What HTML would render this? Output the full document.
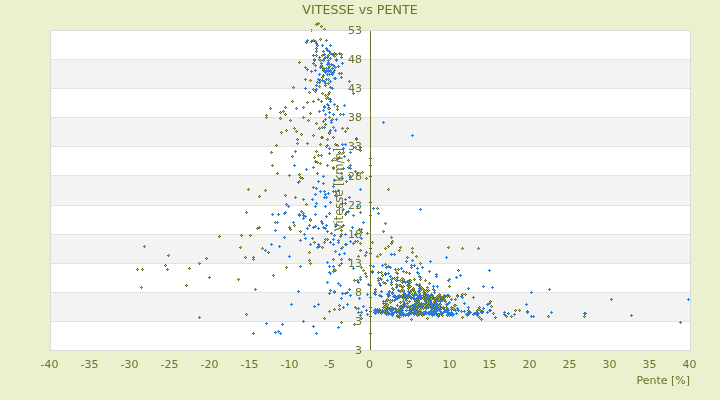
<!DOCTYPE html>
<html><head><meta charset="utf-8"><title>VITESSE vs PENTE</title>
<style>
html,body{margin:0;padding:0;background:#ebf0cf;overflow:hidden}
svg{display:block;will-change:transform}
text{font-family:"DejaVu Sans","Liberation Sans",sans-serif;fill:#6b7326}
</style></head><body>
<svg width="720" height="400" viewBox="0 0 720 400">
<rect width="720" height="400" fill="#ebf0cf"/>
<g shape-rendering="crispEdges">
<rect x="50" y="30" width="641" height="321" fill="#fff"/>
<rect x="50" y="59" width="641" height="29" fill="#f3f3f3"/>
<rect x="50" y="117" width="641" height="29" fill="#f3f3f3"/>
<rect x="50" y="175" width="641" height="30" fill="#f3f3f3"/>
<rect x="50" y="234" width="641" height="29" fill="#f3f3f3"/>
<rect x="50" y="292" width="641" height="29" fill="#f3f3f3"/>
<rect x="50" y="30" width="641" height="1" fill="#e2e2e2"/>
<rect x="50" y="59" width="641" height="1" fill="#e2e2e2"/>
<rect x="50" y="88" width="641" height="1" fill="#e2e2e2"/>
<rect x="50" y="117" width="641" height="1" fill="#e2e2e2"/>
<rect x="50" y="146" width="641" height="1" fill="#e2e2e2"/>
<rect x="50" y="175" width="641" height="1" fill="#e2e2e2"/>
<rect x="50" y="205" width="641" height="1" fill="#e2e2e2"/>
<rect x="50" y="234" width="641" height="1" fill="#e2e2e2"/>
<rect x="50" y="263" width="641" height="1" fill="#e2e2e2"/>
<rect x="50" y="292" width="641" height="1" fill="#e2e2e2"/>
<rect x="50" y="321" width="641" height="1" fill="#e2e2e2"/>
<rect x="50" y="350" width="641" height="1" fill="#e2e2e2"/>
</g>
<g shape-rendering="crispEdges">
<path fill="#5f6b14" d="M144 245h1v1h1v1h-1v1h-1v-1h-1v-1h1zM168 254h1v1h1v1h-1v1h-1v-1h-1v-1h1zM137 268h1v1h1v1h-1v1h-1v-1h-1v-1h1zM142 268h1v1h1v1h-1v1h-1v-1h-1v-1h1zM165 264h1v1h1v1h-1v1h-1v-1h-1v-1h1zM167 268h1v1h1v1h-1v1h-1v-1h-1v-1h1zM141 286h1v1h1v1h-1v1h-1v-1h-1v-1h1zM186 284h1v1h1v1h-1v1h-1v-1h-1v-1h1zM189 267h1v1h1v1h-1v1h-1v-1h-1v-1h1zM199 262h1v1h1v1h-1v1h-1v-1h-1v-1h1zM206 257h1v1h1v1h-1v1h-1v-1h-1v-1h1zM219 235h1v1h1v1h-1v1h-1v-1h-1v-1h1zM241 234h1v1h1v1h-1v1h-1v-1h-1v-1h1zM250 234h1v1h1v1h-1v1h-1v-1h-1v-1h1zM240 246h1v1h1v1h-1v1h-1v-1h-1v-1h1zM245 256h1v1h1v1h-1v1h-1v-1h-1v-1h1zM253 258h1v1h1v1h-1v1h-1v-1h-1v-1h1zM257 227h1v1h1v1h-1v1h-1v-1h-1v-1h1zM262 247h1v1h1v1h-1v1h-1v-1h-1v-1h1zM268 251h1v1h1v1h-1v1h-1v-1h-1v-1h1zM238 278h1v1h1v1h-1v1h-1v-1h-1v-1h1zM273 274h1v1h1v1h-1v1h-1v-1h-1v-1h1zM246 313h1v1h1v1h-1v1h-1v-1h-1v-1h1zM271 151h1v1h1v1h-1v1h-1v-1h-1v-1h1zM272 164h1v1h1v1h-1v1h-1v-1h-1v-1h1zM248 188h1v1h1v1h-1v1h-1v-1h-1v-1h1zM265 189h1v1h1v1h-1v1h-1v-1h-1v-1h1zM259 195h1v1h1v1h-1v1h-1v-1h-1v-1h1zM246 211h1v1h1v1h-1v1h-1v-1h-1v-1h1zM270 107h1v1h1v1h-1v1h-1v-1h-1v-1h1zM266 114h1v1h1v1h-1v1h-1v-1h-1v-1h1zM266 116h1v1h1v1h-1v1h-1v-1h-1v-1h1zM316 23h1v1h1v1h-1v1h-1v-1h-1v-1h1zM318 22h1v1h1v1h-1v1h-1v-1h-1v-1h1zM321 25h1v1h1v1h-1v1h-1v-1h-1v-1h1zM324 28h1v1h1v1h-1v1h-1v-1h-1v-1h1zM311 29h1v1h1v1h-1v1h-1v-1h-1v-1h1zM306 41h1v1h1v1h-1v1h-1v-1h-1v-1h1zM313 39h1v1h1v1h-1v1h-1v-1h-1v-1h1zM315 40h1v1h1v1h-1v1h-1v-1h-1v-1h1zM317 44h1v1h1v1h-1v1h-1v-1h-1v-1h1zM320 38h1v1h1v1h-1v1h-1v-1h-1v-1h1zM316 47h1v1h1v1h-1v1h-1v-1h-1v-1h1zM323 50h1v1h1v1h-1v1h-1v-1h-1v-1h1zM316 54h1v1h1v1h-1v1h-1v-1h-1v-1h1zM322 54h1v1h1v1h-1v1h-1v-1h-1v-1h1zM328 54h1v1h1v1h-1v1h-1v-1h-1v-1h1zM334 52h1v1h1v1h-1v1h-1v-1h-1v-1h1zM336 53h1v1h1v1h-1v1h-1v-1h-1v-1h1zM334 55h1v1h1v1h-1v1h-1v-1h-1v-1h1zM341 53h1v1h1v1h-1v1h-1v-1h-1v-1h1zM319 58h1v1h1v1h-1v1h-1v-1h-1v-1h1zM299 61h1v1h1v1h-1v1h-1v-1h-1v-1h1zM293 86h1v1h1v1h-1v1h-1v-1h-1v-1h1zM310 79h1v1h1v1h-1v1h-1v-1h-1v-1h1zM309 91h1v1h1v1h-1v1h-1v-1h-1v-1h1zM313 88h1v1h1v1h-1v1h-1v-1h-1v-1h1zM315 90h1v1h1v1h-1v1h-1v-1h-1v-1h1zM317 81h1v1h1v1h-1v1h-1v-1h-1v-1h1zM320 79h1v1h1v1h-1v1h-1v-1h-1v-1h1zM319 85h1v1h1v1h-1v1h-1v-1h-1v-1h1zM319 85h1v1h1v1h-1v1h-1v-1h-1v-1h1zM320 59h1v1h1v1h-1v1h-1v-1h-1v-1h1zM321 65h1v1h1v1h-1v1h-1v-1h-1v-1h1zM323 67h1v1h1v1h-1v1h-1v-1h-1v-1h1zM323 69h1v1h1v1h-1v1h-1v-1h-1v-1h1zM322 76h1v1h1v1h-1v1h-1v-1h-1v-1h1zM328 78h1v1h1v1h-1v1h-1v-1h-1v-1h1zM328 82h1v1h1v1h-1v1h-1v-1h-1v-1h1zM329 65h1v1h1v1h-1v1h-1v-1h-1v-1h1zM335 66h1v1h1v1h-1v1h-1v-1h-1v-1h1zM322 92h1v1h1v1h-1v1h-1v-1h-1v-1h1zM325 94h1v1h1v1h-1v1h-1v-1h-1v-1h1zM329 91h1v1h1v1h-1v1h-1v-1h-1v-1h1zM328 93h1v1h1v1h-1v1h-1v-1h-1v-1h1zM327 96h1v1h1v1h-1v1h-1v-1h-1v-1h1zM326 97h1v1h1v1h-1v1h-1v-1h-1v-1h1zM328 97h1v1h1v1h-1v1h-1v-1h-1v-1h1zM318 98h1v1h1v1h-1v1h-1v-1h-1v-1h1zM292 100h1v1h1v1h-1v1h-1v-1h-1v-1h1zM307 101h1v1h1v1h-1v1h-1v-1h-1v-1h1zM285 106h1v1h1v1h-1v1h-1v-1h-1v-1h1zM303 106h1v1h1v1h-1v1h-1v-1h-1v-1h1zM280 111h1v1h1v1h-1v1h-1v-1h-1v-1h1zM283 110h1v1h1v1h-1v1h-1v-1h-1v-1h1zM285 113h1v1h1v1h-1v1h-1v-1h-1v-1h1zM310 112h1v1h1v1h-1v1h-1v-1h-1v-1h1zM328 107h1v1h1v1h-1v1h-1v-1h-1v-1h1zM329 107h1v1h1v1h-1v1h-1v-1h-1v-1h1zM337 105h1v1h1v1h-1v1h-1v-1h-1v-1h1zM340 113h1v1h1v1h-1v1h-1v-1h-1v-1h1zM280 117h1v1h1v1h-1v1h-1v-1h-1v-1h1zM290 119h1v1h1v1h-1v1h-1v-1h-1v-1h1zM303 116h1v1h1v1h-1v1h-1v-1h-1v-1h1zM308 119h1v1h1v1h-1v1h-1v-1h-1v-1h1zM332 118h1v1h1v1h-1v1h-1v-1h-1v-1h1zM316 122h1v1h1v1h-1v1h-1v-1h-1v-1h1zM325 123h1v1h1v1h-1v1h-1v-1h-1v-1h1zM319 127h1v1h1v1h-1v1h-1v-1h-1v-1h1zM322 126h1v1h1v1h-1v1h-1v-1h-1v-1h1zM333 126h1v1h1v1h-1v1h-1v-1h-1v-1h1zM342 127h1v1h1v1h-1v1h-1v-1h-1v-1h1zM329 131h1v1h1v1h-1v1h-1v-1h-1v-1h1zM329 132h1v1h1v1h-1v1h-1v-1h-1v-1h1zM281 131h1v1h1v1h-1v1h-1v-1h-1v-1h1zM286 129h1v1h1v1h-1v1h-1v-1h-1v-1h1zM294 127h1v1h1v1h-1v1h-1v-1h-1v-1h1zM296 130h1v1h1v1h-1v1h-1v-1h-1v-1h1zM301 133h1v1h1v1h-1v1h-1v-1h-1v-1h1zM313 134h1v1h1v1h-1v1h-1v-1h-1v-1h1zM322 136h1v1h1v1h-1v1h-1v-1h-1v-1h1zM327 138h1v1h1v1h-1v1h-1v-1h-1v-1h1zM333 136h1v1h1v1h-1v1h-1v-1h-1v-1h1zM297 138h1v1h1v1h-1v1h-1v-1h-1v-1h1zM276 144h1v1h1v1h-1v1h-1v-1h-1v-1h1zM297 142h1v1h1v1h-1v1h-1v-1h-1v-1h1zM320 143h1v1h1v1h-1v1h-1v-1h-1v-1h1zM326 145h1v1h1v1h-1v1h-1v-1h-1v-1h1zM335 143h1v1h1v1h-1v1h-1v-1h-1v-1h1zM337 144h1v1h1v1h-1v1h-1v-1h-1v-1h1zM292 155h1v1h1v1h-1v1h-1v-1h-1v-1h1zM316 150h1v1h1v1h-1v1h-1v-1h-1v-1h1zM318 154h1v1h1v1h-1v1h-1v-1h-1v-1h1zM321 154h1v1h1v1h-1v1h-1v-1h-1v-1h1zM314 156h1v1h1v1h-1v1h-1v-1h-1v-1h1zM343 151h1v1h1v1h-1v1h-1v-1h-1v-1h1zM317 161h1v1h1v1h-1v1h-1v-1h-1v-1h1zM320 162h1v1h1v1h-1v1h-1v-1h-1v-1h1zM332 159h1v1h1v1h-1v1h-1v-1h-1v-1h1zM333 167h1v1h1v1h-1v1h-1v-1h-1v-1h1zM299 173h1v1h1v1h-1v1h-1v-1h-1v-1h1zM300 176h1v1h1v1h-1v1h-1v-1h-1v-1h1zM302 177h1v1h1v1h-1v1h-1v-1h-1v-1h1zM339 151h1v1h1v1h-1v1h-1v-1h-1v-1h1zM299 180h1v1h1v1h-1v1h-1v-1h-1v-1h1zM285 194h1v1h1v1h-1v1h-1v-1h-1v-1h1zM306 203h1v1h1v1h-1v1h-1v-1h-1v-1h1zM345 202h1v1h1v1h-1v1h-1v-1h-1v-1h1zM339 206h1v1h1v1h-1v1h-1v-1h-1v-1h1zM329 212h1v1h1v1h-1v1h-1v-1h-1v-1h1zM345 213h1v1h1v1h-1v1h-1v-1h-1v-1h1zM310 218h1v1h1v1h-1v1h-1v-1h-1v-1h1zM275 221h1v1h1v1h-1v1h-1v-1h-1v-1h1zM294 224h1v1h1v1h-1v1h-1v-1h-1v-1h1zM290 228h1v1h1v1h-1v1h-1v-1h-1v-1h1zM300 230h1v1h1v1h-1v1h-1v-1h-1v-1h1zM310 219h1v1h1v1h-1v1h-1v-1h-1v-1h1zM321 220h1v1h1v1h-1v1h-1v-1h-1v-1h1zM314 241h1v1h1v1h-1v1h-1v-1h-1v-1h1zM322 246h1v1h1v1h-1v1h-1v-1h-1v-1h1zM325 238h1v1h1v1h-1v1h-1v-1h-1v-1h1zM327 238h1v1h1v1h-1v1h-1v-1h-1v-1h1zM324 241h1v1h1v1h-1v1h-1v-1h-1v-1h1zM341 233h1v1h1v1h-1v1h-1v-1h-1v-1h1zM341 229h1v1h1v1h-1v1h-1v-1h-1v-1h1zM309 251h1v1h1v1h-1v1h-1v-1h-1v-1h1zM335 250h1v1h1v1h-1v1h-1v-1h-1v-1h1zM342 246h1v1h1v1h-1v1h-1v-1h-1v-1h1zM333 258h1v1h1v1h-1v1h-1v-1h-1v-1h1zM341 258h1v1h1v1h-1v1h-1v-1h-1v-1h1zM309 259h1v1h1v1h-1v1h-1v-1h-1v-1h1zM310 262h1v1h1v1h-1v1h-1v-1h-1v-1h1zM286 266h1v1h1v1h-1v1h-1v-1h-1v-1h1zM334 268h1v1h1v1h-1v1h-1v-1h-1v-1h1zM333 270h1v1h1v1h-1v1h-1v-1h-1v-1h1zM335 269h1v1h1v1h-1v1h-1v-1h-1v-1h1zM339 304h1v1h1v1h-1v1h-1v-1h-1v-1h1zM334 308h1v1h1v1h-1v1h-1v-1h-1v-1h1zM339 308h1v1h1v1h-1v1h-1v-1h-1v-1h1zM324 317h1v1h1v1h-1v1h-1v-1h-1v-1h1zM341 321h1v1h1v1h-1v1h-1v-1h-1v-1h1zM347 127h1v1h1v1h-1v1h-1v-1h-1v-1h1zM356 138h1v1h1v1h-1v1h-1v-1h-1v-1h1zM355 146h1v1h1v1h-1v1h-1v-1h-1v-1h1zM360 146h1v1h1v1h-1v1h-1v-1h-1v-1h1zM360 149h1v1h1v1h-1v1h-1v-1h-1v-1h1zM348 159h1v1h1v1h-1v1h-1v-1h-1v-1h1zM348 166h1v1h1v1h-1v1h-1v-1h-1v-1h1zM362 171h1v1h1v1h-1v1h-1v-1h-1v-1h1zM349 174h1v1h1v1h-1v1h-1v-1h-1v-1h1zM366 177h1v1h1v1h-1v1h-1v-1h-1v-1h1zM370 157h1v1h1v1h-1v1h-1v-1h-1v-1h1zM370 164h1v1h1v1h-1v1h-1v-1h-1v-1h1zM370 175h1v1h1v1h-1v1h-1v-1h-1v-1h1zM346 180h1v1h1v1h-1v1h-1v-1h-1v-1h1zM388 188h1v1h1v1h-1v1h-1v-1h-1v-1h1zM370 201h1v1h1v1h-1v1h-1v-1h-1v-1h1zM377 207h1v1h1v1h-1v1h-1v-1h-1v-1h1zM385 222h1v1h1v1h-1v1h-1v-1h-1v-1h1zM383 230h1v1h1v1h-1v1h-1v-1h-1v-1h1zM361 231h1v1h1v1h-1v1h-1v-1h-1v-1h1zM391 236h1v1h1v1h-1v1h-1v-1h-1v-1h1zM392 240h1v1h1v1h-1v1h-1v-1h-1v-1h1zM391 242h1v1h1v1h-1v1h-1v-1h-1v-1h1zM388 245h1v1h1v1h-1v1h-1v-1h-1v-1h1zM385 247h1v1h1v1h-1v1h-1v-1h-1v-1h1zM372 241h1v1h1v1h-1v1h-1v-1h-1v-1h1zM357 240h1v1h1v1h-1v1h-1v-1h-1v-1h1zM360 242h1v1h1v1h-1v1h-1v-1h-1v-1h1zM360 249h1v1h1v1h-1v1h-1v-1h-1v-1h1zM365 254h1v1h1v1h-1v1h-1v-1h-1v-1h1zM358 255h1v1h1v1h-1v1h-1v-1h-1v-1h1zM370 247h1v1h1v1h-1v1h-1v-1h-1v-1h1zM370 252h1v1h1v1h-1v1h-1v-1h-1v-1h1zM377 255h1v1h1v1h-1v1h-1v-1h-1v-1h1zM380 253h1v1h1v1h-1v1h-1v-1h-1v-1h1zM400 246h1v1h1v1h-1v1h-1v-1h-1v-1h1zM399 249h1v1h1v1h-1v1h-1v-1h-1v-1h1zM412 247h1v1h1v1h-1v1h-1v-1h-1v-1h1zM412 251h1v1h1v1h-1v1h-1v-1h-1v-1h1zM407 256h1v1h1v1h-1v1h-1v-1h-1v-1h1zM416 255h1v1h1v1h-1v1h-1v-1h-1v-1h1zM349 258h1v1h1v1h-1v1h-1v-1h-1v-1h1zM363 269h1v1h1v1h-1v1h-1v-1h-1v-1h1zM366 275h1v1h1v1h-1v1h-1v-1h-1v-1h1zM360 276h1v1h1v1h-1v1h-1v-1h-1v-1h1zM354 279h1v1h1v1h-1v1h-1v-1h-1v-1h1zM357 279h1v1h1v1h-1v1h-1v-1h-1v-1h1zM370 264h1v1h1v1h-1v1h-1v-1h-1v-1h1zM372 270h1v1h1v1h-1v1h-1v-1h-1v-1h1zM381 271h1v1h1v1h-1v1h-1v-1h-1v-1h1zM382 274h1v1h1v1h-1v1h-1v-1h-1v-1h1zM385 272h1v1h1v1h-1v1h-1v-1h-1v-1h1zM385 263h1v1h1v1h-1v1h-1v-1h-1v-1h1zM398 268h1v1h1v1h-1v1h-1v-1h-1v-1h1zM406 271h1v1h1v1h-1v1h-1v-1h-1v-1h1zM396 271h1v1h1v1h-1v1h-1v-1h-1v-1h1zM411 264h1v1h1v1h-1v1h-1v-1h-1v-1h1zM356 307h1v1h1v1h-1v1h-1v-1h-1v-1h1zM361 311h1v1h1v1h-1v1h-1v-1h-1v-1h1zM361 317h1v1h1v1h-1v1h-1v-1h-1v-1h1zM354 323h1v1h1v1h-1v1h-1v-1h-1v-1h1zM370 315h1v1h1v1h-1v1h-1v-1h-1v-1h1zM397 315h1v1h1v1h-1v1h-1v-1h-1v-1h1zM411 318h1v1h1v1h-1v1h-1v-1h-1v-1h1zM448 246h1v1h1v1h-1v1h-1v-1h-1v-1h1zM462 247h1v1h1v1h-1v1h-1v-1h-1v-1h1zM478 247h1v1h1v1h-1v1h-1v-1h-1v-1h1zM420 262h1v1h1v1h-1v1h-1v-1h-1v-1h1zM418 272h1v1h1v1h-1v1h-1v-1h-1v-1h1zM458 269h1v1h1v1h-1v1h-1v-1h-1v-1h1zM449 278h1v1h1v1h-1v1h-1v-1h-1v-1h1zM449 285h1v1h1v1h-1v1h-1v-1h-1v-1h1zM457 294h1v1h1v1h-1v1h-1v-1h-1v-1h1zM462 293h1v1h1v1h-1v1h-1v-1h-1v-1h1zM465 293h1v1h1v1h-1v1h-1v-1h-1v-1h1zM447 294h1v1h1v1h-1v1h-1v-1h-1v-1h1zM427 317h1v1h1v1h-1v1h-1v-1h-1v-1h1zM462 316h1v1h1v1h-1v1h-1v-1h-1v-1h1zM482 310h1v1h1v1h-1v1h-1v-1h-1v-1h1zM479 316h1v1h1v1h-1v1h-1v-1h-1v-1h1zM481 318h1v1h1v1h-1v1h-1v-1h-1v-1h1zM490 300h1v1h1v1h-1v1h-1v-1h-1v-1h1zM491 305h1v1h1v1h-1v1h-1v-1h-1v-1h1zM490 309h1v1h1v1h-1v1h-1v-1h-1v-1h1zM493 312h1v1h1v1h-1v1h-1v-1h-1v-1h1zM495 316h1v1h1v1h-1v1h-1v-1h-1v-1h1zM506 315h1v1h1v1h-1v1h-1v-1h-1v-1h1zM511 315h1v1h1v1h-1v1h-1v-1h-1v-1h1zM515 309h1v1h1v1h-1v1h-1v-1h-1v-1h1zM519 309h1v1h1v1h-1v1h-1v-1h-1v-1h1zM527 310h1v1h1v1h-1v1h-1v-1h-1v-1h1zM548 315h1v1h1v1h-1v1h-1v-1h-1v-1h1zM584 315h1v1h1v1h-1v1h-1v-1h-1v-1h1z"/>
<path fill="#b2c04e" d="M144 246h1v1h-1zM168 255h1v1h-1zM137 269h1v1h-1zM142 269h1v1h-1zM165 265h1v1h-1zM167 269h1v1h-1zM141 287h1v1h-1zM186 285h1v1h-1zM189 268h1v1h-1zM199 263h1v1h-1zM206 258h1v1h-1zM219 236h1v1h-1zM241 235h1v1h-1zM250 235h1v1h-1zM240 247h1v1h-1zM245 257h1v1h-1zM253 259h1v1h-1zM257 228h1v1h-1zM262 248h1v1h-1zM268 252h1v1h-1zM238 279h1v1h-1zM273 275h1v1h-1zM246 314h1v1h-1zM271 152h1v1h-1zM272 165h1v1h-1zM248 189h1v1h-1zM265 190h1v1h-1zM259 196h1v1h-1zM246 212h1v1h-1zM270 108h1v1h-1zM266 115h1v1h-1zM266 117h1v1h-1zM316 24h1v1h-1zM318 23h1v1h-1zM321 26h1v1h-1zM324 29h1v1h-1zM311 30h1v1h-1zM306 42h1v1h-1zM313 40h1v1h-1zM315 41h1v1h-1zM317 45h1v1h-1zM320 39h1v1h-1zM316 48h1v1h-1zM323 51h1v1h-1zM316 55h1v1h-1zM322 55h1v1h-1zM328 55h1v1h-1zM334 53h1v1h-1zM336 54h1v1h-1zM334 56h1v1h-1zM341 54h1v1h-1zM319 59h1v1h-1zM299 62h1v1h-1zM293 87h1v1h-1zM310 80h1v1h-1zM309 92h1v1h-1zM313 89h1v1h-1zM315 91h1v1h-1zM317 82h1v1h-1zM320 80h1v1h-1zM319 86h1v1h-1zM319 86h1v1h-1zM320 60h1v1h-1zM321 66h1v1h-1zM323 68h1v1h-1zM323 70h1v1h-1zM322 77h1v1h-1zM328 79h1v1h-1zM328 83h1v1h-1zM329 66h1v1h-1zM335 67h1v1h-1zM322 93h1v1h-1zM325 95h1v1h-1zM329 92h1v1h-1zM328 94h1v1h-1zM327 97h1v1h-1zM326 98h1v1h-1zM328 98h1v1h-1zM318 99h1v1h-1zM292 101h1v1h-1zM307 102h1v1h-1zM285 107h1v1h-1zM303 107h1v1h-1zM280 112h1v1h-1zM283 111h1v1h-1zM285 114h1v1h-1zM310 113h1v1h-1zM328 108h1v1h-1zM329 108h1v1h-1zM337 106h1v1h-1zM340 114h1v1h-1zM280 118h1v1h-1zM290 120h1v1h-1zM303 117h1v1h-1zM308 120h1v1h-1zM332 119h1v1h-1zM316 123h1v1h-1zM325 124h1v1h-1zM319 128h1v1h-1zM322 127h1v1h-1zM333 127h1v1h-1zM342 128h1v1h-1zM329 132h1v1h-1zM329 133h1v1h-1zM281 132h1v1h-1zM286 130h1v1h-1zM294 128h1v1h-1zM296 131h1v1h-1zM301 134h1v1h-1zM313 135h1v1h-1zM322 137h1v1h-1zM327 139h1v1h-1zM333 137h1v1h-1zM297 139h1v1h-1zM276 145h1v1h-1zM297 143h1v1h-1zM320 144h1v1h-1zM326 146h1v1h-1zM335 144h1v1h-1zM337 145h1v1h-1zM292 156h1v1h-1zM316 151h1v1h-1zM318 155h1v1h-1zM321 155h1v1h-1zM314 157h1v1h-1zM343 152h1v1h-1zM317 162h1v1h-1zM320 163h1v1h-1zM332 160h1v1h-1zM333 168h1v1h-1zM299 174h1v1h-1zM300 177h1v1h-1zM302 178h1v1h-1zM339 152h1v1h-1zM299 181h1v1h-1zM285 195h1v1h-1zM306 204h1v1h-1zM345 203h1v1h-1zM339 207h1v1h-1zM329 213h1v1h-1zM345 214h1v1h-1zM310 219h1v1h-1zM275 222h1v1h-1zM294 225h1v1h-1zM290 229h1v1h-1zM300 231h1v1h-1zM310 220h1v1h-1zM321 221h1v1h-1zM314 242h1v1h-1zM322 247h1v1h-1zM325 239h1v1h-1zM327 239h1v1h-1zM324 242h1v1h-1zM341 234h1v1h-1zM341 230h1v1h-1zM309 252h1v1h-1zM335 251h1v1h-1zM342 247h1v1h-1zM333 259h1v1h-1zM341 259h1v1h-1zM309 260h1v1h-1zM310 263h1v1h-1zM286 267h1v1h-1zM334 269h1v1h-1zM333 271h1v1h-1zM335 270h1v1h-1zM339 305h1v1h-1zM334 309h1v1h-1zM339 309h1v1h-1zM324 318h1v1h-1zM341 322h1v1h-1zM347 128h1v1h-1zM356 139h1v1h-1zM355 147h1v1h-1zM360 147h1v1h-1zM360 150h1v1h-1zM348 160h1v1h-1zM348 167h1v1h-1zM362 172h1v1h-1zM349 175h1v1h-1zM366 178h1v1h-1zM370 158h1v1h-1zM370 165h1v1h-1zM370 176h1v1h-1zM346 181h1v1h-1zM388 189h1v1h-1zM370 202h1v1h-1zM377 208h1v1h-1zM385 223h1v1h-1zM383 231h1v1h-1zM361 232h1v1h-1zM391 237h1v1h-1zM392 241h1v1h-1zM391 243h1v1h-1zM388 246h1v1h-1zM385 248h1v1h-1zM372 242h1v1h-1zM357 241h1v1h-1zM360 243h1v1h-1zM360 250h1v1h-1zM365 255h1v1h-1zM358 256h1v1h-1zM370 248h1v1h-1zM370 253h1v1h-1zM377 256h1v1h-1zM380 254h1v1h-1zM400 247h1v1h-1zM399 250h1v1h-1zM412 248h1v1h-1zM412 252h1v1h-1zM407 257h1v1h-1zM416 256h1v1h-1zM349 259h1v1h-1zM363 270h1v1h-1zM366 276h1v1h-1zM360 277h1v1h-1zM354 280h1v1h-1zM357 280h1v1h-1zM370 265h1v1h-1zM372 271h1v1h-1zM381 272h1v1h-1zM382 275h1v1h-1zM385 273h1v1h-1zM385 264h1v1h-1zM398 269h1v1h-1zM406 272h1v1h-1zM396 272h1v1h-1zM411 265h1v1h-1zM356 308h1v1h-1zM361 312h1v1h-1zM361 318h1v1h-1zM354 324h1v1h-1zM370 316h1v1h-1zM397 316h1v1h-1zM411 319h1v1h-1zM448 247h1v1h-1zM462 248h1v1h-1zM478 248h1v1h-1zM420 263h1v1h-1zM418 273h1v1h-1zM458 270h1v1h-1zM449 279h1v1h-1zM449 286h1v1h-1zM457 295h1v1h-1zM462 294h1v1h-1zM465 294h1v1h-1zM447 295h1v1h-1zM427 318h1v1h-1zM462 317h1v1h-1zM482 311h1v1h-1zM479 317h1v1h-1zM481 319h1v1h-1zM490 301h1v1h-1zM491 306h1v1h-1zM490 310h1v1h-1zM493 313h1v1h-1zM495 317h1v1h-1zM506 316h1v1h-1zM511 316h1v1h-1zM515 310h1v1h-1zM519 310h1v1h-1zM527 311h1v1h-1zM548 316h1v1h-1zM584 316h1v1h-1z"/>
<path fill="#2b7cd6" d="M209 276h1v1h1v1h-1v1h-1v-1h-1v-1h1zM253 256h1v1h1v1h-1v1h-1v-1h-1v-1h1zM259 226h1v1h1v1h-1v1h-1v-1h-1v-1h1zM265 249h1v1h1v1h-1v1h-1v-1h-1v-1h1zM271 243h1v1h1v1h-1v1h-1v-1h-1v-1h1zM255 288h1v1h1v1h-1v1h-1v-1h-1v-1h1zM199 316h1v1h1v1h-1v1h-1v-1h-1v-1h1zM266 322h1v1h1v1h-1v1h-1v-1h-1v-1h1zM253 332h1v1h1v1h-1v1h-1v-1h-1v-1h1zM272 213h1v1h1v1h-1v1h-1v-1h-1v-1h1zM307 39h1v1h1v1h-1v1h-1v-1h-1v-1h1zM311 40h1v1h1v1h-1v1h-1v-1h-1v-1h1zM316 42h1v1h1v1h-1v1h-1v-1h-1v-1h1zM326 39h1v1h1v1h-1v1h-1v-1h-1v-1h1zM322 44h1v1h1v1h-1v1h-1v-1h-1v-1h1zM330 44h1v1h1v1h-1v1h-1v-1h-1v-1h1zM316 50h1v1h1v1h-1v1h-1v-1h-1v-1h1zM326 47h1v1h1v1h-1v1h-1v-1h-1v-1h1zM327 49h1v1h1v1h-1v1h-1v-1h-1v-1h1zM329 50h1v1h1v1h-1v1h-1v-1h-1v-1h1zM330 52h1v1h1v1h-1v1h-1v-1h-1v-1h1zM313 54h1v1h1v1h-1v1h-1v-1h-1v-1h1zM319 56h1v1h1v1h-1v1h-1v-1h-1v-1h1zM324 53h1v1h1v1h-1v1h-1v-1h-1v-1h1zM325 56h1v1h1v1h-1v1h-1v-1h-1v-1h1zM327 56h1v1h1v1h-1v1h-1v-1h-1v-1h1zM332 53h1v1h1v1h-1v1h-1v-1h-1v-1h1zM333 54h1v1h1v1h-1v1h-1v-1h-1v-1h1zM339 52h1v1h1v1h-1v1h-1v-1h-1v-1h1zM341 56h1v1h1v1h-1v1h-1v-1h-1v-1h1zM330 57h1v1h1v1h-1v1h-1v-1h-1v-1h1zM314 58h1v1h1v1h-1v1h-1v-1h-1v-1h1zM324 57h1v1h1v1h-1v1h-1v-1h-1v-1h1zM336 58h1v1h1v1h-1v1h-1v-1h-1v-1h1zM305 66h1v1h1v1h-1v1h-1v-1h-1v-1h1zM307 68h1v1h1v1h-1v1h-1v-1h-1v-1h1zM311 70h1v1h1v1h-1v1h-1v-1h-1v-1h1zM315 69h1v1h1v1h-1v1h-1v-1h-1v-1h1zM313 62h1v1h1v1h-1v1h-1v-1h-1v-1h1zM315 64h1v1h1v1h-1v1h-1v-1h-1v-1h1zM314 59h1v1h1v1h-1v1h-1v-1h-1v-1h1zM305 78h1v1h1v1h-1v1h-1v-1h-1v-1h1zM305 87h1v1h1v1h-1v1h-1v-1h-1v-1h1zM316 88h1v1h1v1h-1v1h-1v-1h-1v-1h1zM316 84h1v1h1v1h-1v1h-1v-1h-1v-1h1zM318 78h1v1h1v1h-1v1h-1v-1h-1v-1h1zM319 81h1v1h1v1h-1v1h-1v-1h-1v-1h1zM319 73h1v1h1v1h-1v1h-1v-1h-1v-1h1zM321 62h1v1h1v1h-1v1h-1v-1h-1v-1h1zM320 66h1v1h1v1h-1v1h-1v-1h-1v-1h1zM323 59h1v1h1v1h-1v1h-1v-1h-1v-1h1zM323 74h1v1h1v1h-1v1h-1v-1h-1v-1h1zM322 79h1v1h1v1h-1v1h-1v-1h-1v-1h1zM324 80h1v1h1v1h-1v1h-1v-1h-1v-1h1zM325 82h1v1h1v1h-1v1h-1v-1h-1v-1h1zM325 84h1v1h1v1h-1v1h-1v-1h-1v-1h1zM326 78h1v1h1v1h-1v1h-1v-1h-1v-1h1zM330 80h1v1h1v1h-1v1h-1v-1h-1v-1h1zM330 86h1v1h1v1h-1v1h-1v-1h-1v-1h1zM332 87h1v1h1v1h-1v1h-1v-1h-1v-1h1zM334 77h1v1h1v1h-1v1h-1v-1h-1v-1h1zM335 77h1v1h1v1h-1v1h-1v-1h-1v-1h1zM328 59h1v1h1v1h-1v1h-1v-1h-1v-1h1zM328 61h1v1h1v1h-1v1h-1v-1h-1v-1h1zM327 63h1v1h1v1h-1v1h-1v-1h-1v-1h1zM329 63h1v1h1v1h-1v1h-1v-1h-1v-1h1zM328 67h1v1h1v1h-1v1h-1v-1h-1v-1h1zM326 69h1v1h1v1h-1v1h-1v-1h-1v-1h1zM325 71h1v1h1v1h-1v1h-1v-1h-1v-1h1zM327 73h1v1h1v1h-1v1h-1v-1h-1v-1h1zM329 73h1v1h1v1h-1v1h-1v-1h-1v-1h1zM331 71h1v1h1v1h-1v1h-1v-1h-1v-1h1zM333 71h1v1h1v1h-1v1h-1v-1h-1v-1h1zM334 69h1v1h1v1h-1v1h-1v-1h-1v-1h1zM332 67h1v1h1v1h-1v1h-1v-1h-1v-1h1zM331 63h1v1h1v1h-1v1h-1v-1h-1v-1h1zM333 64h1v1h1v1h-1v1h-1v-1h-1v-1h1zM334 65h1v1h1v1h-1v1h-1v-1h-1v-1h1zM338 65h1v1h1v1h-1v1h-1v-1h-1v-1h1zM342 62h1v1h1v1h-1v1h-1v-1h-1v-1h1zM336 59h1v1h1v1h-1v1h-1v-1h-1v-1h1zM339 72h1v1h1v1h-1v1h-1v-1h-1v-1h1zM341 72h1v1h1v1h-1v1h-1v-1h-1v-1h1zM341 76h1v1h1v1h-1v1h-1v-1h-1v-1h1zM324 70h1v1h1v1h-1v1h-1v-1h-1v-1h1zM330 69h1v1h1v1h-1v1h-1v-1h-1v-1h1zM332 73h1v1h1v1h-1v1h-1v-1h-1v-1h1zM330 98h1v1h1v1h-1v1h-1v-1h-1v-1h1zM328 70h1v1h1v1h-1v1h-1v-1h-1v-1h1zM326 67h1v1h1v1h-1v1h-1v-1h-1v-1h1zM313 100h1v1h1v1h-1v1h-1v-1h-1v-1h1zM321 100h1v1h1v1h-1v1h-1v-1h-1v-1h1zM330 100h1v1h1v1h-1v1h-1v-1h-1v-1h1zM296 107h1v1h1v1h-1v1h-1v-1h-1v-1h1zM319 110h1v1h1v1h-1v1h-1v-1h-1v-1h1zM323 109h1v1h1v1h-1v1h-1v-1h-1v-1h1zM324 105h1v1h1v1h-1v1h-1v-1h-1v-1h1zM324 106h1v1h1v1h-1v1h-1v-1h-1v-1h1zM327 103h1v1h1v1h-1v1h-1v-1h-1v-1h1zM328 104h1v1h1v1h-1v1h-1v-1h-1v-1h1zM334 103h1v1h1v1h-1v1h-1v-1h-1v-1h1zM337 108h1v1h1v1h-1v1h-1v-1h-1v-1h1zM344 104h1v1h1v1h-1v1h-1v-1h-1v-1h1zM329 111h1v1h1v1h-1v1h-1v-1h-1v-1h1zM325 113h1v1h1v1h-1v1h-1v-1h-1v-1h1zM333 113h1v1h1v1h-1v1h-1v-1h-1v-1h1zM343 113h1v1h1v1h-1v1h-1v-1h-1v-1h1zM329 116h1v1h1v1h-1v1h-1v-1h-1v-1h1zM325 118h1v1h1v1h-1v1h-1v-1h-1v-1h1zM323 120h1v1h1v1h-1v1h-1v-1h-1v-1h1zM331 119h1v1h1v1h-1v1h-1v-1h-1v-1h1zM331 121h1v1h1v1h-1v1h-1v-1h-1v-1h1zM336 118h1v1h1v1h-1v1h-1v-1h-1v-1h1zM324 126h1v1h1v1h-1v1h-1v-1h-1v-1h1zM330 129h1v1h1v1h-1v1h-1v-1h-1v-1h1zM335 129h1v1h1v1h-1v1h-1v-1h-1v-1h1zM345 130h1v1h1v1h-1v1h-1v-1h-1v-1h1zM321 136h1v1h1v1h-1v1h-1v-1h-1v-1h1zM307 142h1v1h1v1h-1v1h-1v-1h-1v-1h1zM327 144h1v1h1v1h-1v1h-1v-1h-1v-1h1zM342 143h1v1h1v1h-1v1h-1v-1h-1v-1h1zM345 143h1v1h1v1h-1v1h-1v-1h-1v-1h1zM295 150h1v1h1v1h-1v1h-1v-1h-1v-1h1zM329 147h1v1h1v1h-1v1h-1v-1h-1v-1h1zM329 152h1v1h1v1h-1v1h-1v-1h-1v-1h1zM343 147h1v1h1v1h-1v1h-1v-1h-1v-1h1zM344 155h1v1h1v1h-1v1h-1v-1h-1v-1h1zM315 160h1v1h1v1h-1v1h-1v-1h-1v-1h1zM337 158h1v1h1v1h-1v1h-1v-1h-1v-1h1zM339 156h1v1h1v1h-1v1h-1v-1h-1v-1h1zM294 164h1v1h1v1h-1v1h-1v-1h-1v-1h1zM327 164h1v1h1v1h-1v1h-1v-1h-1v-1h1zM313 166h1v1h1v1h-1v1h-1v-1h-1v-1h1zM306 168h1v1h1v1h-1v1h-1v-1h-1v-1h1zM333 166h1v1h1v1h-1v1h-1v-1h-1v-1h1zM343 167h1v1h1v1h-1v1h-1v-1h-1v-1h1zM277 172h1v1h1v1h-1v1h-1v-1h-1v-1h1zM289 174h1v1h1v1h-1v1h-1v-1h-1v-1h1zM317 172h1v1h1v1h-1v1h-1v-1h-1v-1h1zM323 175h1v1h1v1h-1v1h-1v-1h-1v-1h1zM341 172h1v1h1v1h-1v1h-1v-1h-1v-1h1zM342 177h1v1h1v1h-1v1h-1v-1h-1v-1h1zM298 181h1v1h1v1h-1v1h-1v-1h-1v-1h1zM318 180h1v1h1v1h-1v1h-1v-1h-1v-1h1zM323 182h1v1h1v1h-1v1h-1v-1h-1v-1h1zM334 179h1v1h1v1h-1v1h-1v-1h-1v-1h1zM313 186h1v1h1v1h-1v1h-1v-1h-1v-1h1zM316 187h1v1h1v1h-1v1h-1v-1h-1v-1h1zM333 185h1v1h1v1h-1v1h-1v-1h-1v-1h1zM320 190h1v1h1v1h-1v1h-1v-1h-1v-1h1zM324 190h1v1h1v1h-1v1h-1v-1h-1v-1h1zM328 192h1v1h1v1h-1v1h-1v-1h-1v-1h1zM325 193h1v1h1v1h-1v1h-1v-1h-1v-1h1zM315 193h1v1h1v1h-1v1h-1v-1h-1v-1h1zM333 190h1v1h1v1h-1v1h-1v-1h-1v-1h1zM335 190h1v1h1v1h-1v1h-1v-1h-1v-1h1zM338 189h1v1h1v1h-1v1h-1v-1h-1v-1h1zM295 196h1v1h1v1h-1v1h-1v-1h-1v-1h1zM303 198h1v1h1v1h-1v1h-1v-1h-1v-1h1zM312 198h1v1h1v1h-1v1h-1v-1h-1v-1h1zM324 196h1v1h1v1h-1v1h-1v-1h-1v-1h1zM326 196h1v1h1v1h-1v1h-1v-1h-1v-1h1zM335 194h1v1h1v1h-1v1h-1v-1h-1v-1h1zM336 195h1v1h1v1h-1v1h-1v-1h-1v-1h1zM330 201h1v1h1v1h-1v1h-1v-1h-1v-1h1zM345 198h1v1h1v1h-1v1h-1v-1h-1v-1h1zM286 203h1v1h1v1h-1v1h-1v-1h-1v-1h1zM288 205h1v1h1v1h-1v1h-1v-1h-1v-1h1zM316 202h1v1h1v1h-1v1h-1v-1h-1v-1h1zM315 205h1v1h1v1h-1v1h-1v-1h-1v-1h1zM325 205h1v1h1v1h-1v1h-1v-1h-1v-1h1zM342 202h1v1h1v1h-1v1h-1v-1h-1v-1h1zM343 208h1v1h1v1h-1v1h-1v-1h-1v-1h1zM278 213h1v1h1v1h-1v1h-1v-1h-1v-1h1zM284 212h1v1h1v1h-1v1h-1v-1h-1v-1h1zM285 211h1v1h1v1h-1v1h-1v-1h-1v-1h1zM301 210h1v1h1v1h-1v1h-1v-1h-1v-1h1zM303 212h1v1h1v1h-1v1h-1v-1h-1v-1h1zM299 213h1v1h1v1h-1v1h-1v-1h-1v-1h1zM299 214h1v1h1v1h-1v1h-1v-1h-1v-1h1zM303 214h1v1h1v1h-1v1h-1v-1h-1v-1h1zM305 215h1v1h1v1h-1v1h-1v-1h-1v-1h1zM303 217h1v1h1v1h-1v1h-1v-1h-1v-1h1zM315 213h1v1h1v1h-1v1h-1v-1h-1v-1h1zM326 215h1v1h1v1h-1v1h-1v-1h-1v-1h1zM277 221h1v1h1v1h-1v1h-1v-1h-1v-1h1zM293 221h1v1h1v1h-1v1h-1v-1h-1v-1h1zM289 226h1v1h1v1h-1v1h-1v-1h-1v-1h1zM275 229h1v1h1v1h-1v1h-1v-1h-1v-1h1zM322 222h1v1h1v1h-1v1h-1v-1h-1v-1h1zM309 224h1v1h1v1h-1v1h-1v-1h-1v-1h1zM307 227h1v1h1v1h-1v1h-1v-1h-1v-1h1zM313 226h1v1h1v1h-1v1h-1v-1h-1v-1h1zM315 225h1v1h1v1h-1v1h-1v-1h-1v-1h1zM318 227h1v1h1v1h-1v1h-1v-1h-1v-1h1zM323 226h1v1h1v1h-1v1h-1v-1h-1v-1h1zM325 227h1v1h1v1h-1v1h-1v-1h-1v-1h1zM326 224h1v1h1v1h-1v1h-1v-1h-1v-1h1zM327 230h1v1h1v1h-1v1h-1v-1h-1v-1h1zM331 232h1v1h1v1h-1v1h-1v-1h-1v-1h1zM334 234h1v1h1v1h-1v1h-1v-1h-1v-1h1zM304 233h1v1h1v1h-1v1h-1v-1h-1v-1h1zM305 237h1v1h1v1h-1v1h-1v-1h-1v-1h1zM300 239h1v1h1v1h-1v1h-1v-1h-1v-1h1zM284 236h1v1h1v1h-1v1h-1v-1h-1v-1h1zM312 237h1v1h1v1h-1v1h-1v-1h-1v-1h1zM310 243h1v1h1v1h-1v1h-1v-1h-1v-1h1zM318 243h1v1h1v1h-1v1h-1v-1h-1v-1h1zM319 245h1v1h1v1h-1v1h-1v-1h-1v-1h1zM317 246h1v1h1v1h-1v1h-1v-1h-1v-1h1zM330 241h1v1h1v1h-1v1h-1v-1h-1v-1h1zM333 238h1v1h1v1h-1v1h-1v-1h-1v-1h1zM333 243h1v1h1v1h-1v1h-1v-1h-1v-1h1zM338 239h1v1h1v1h-1v1h-1v-1h-1v-1h1zM338 241h1v1h1v1h-1v1h-1v-1h-1v-1h1zM340 235h1v1h1v1h-1v1h-1v-1h-1v-1h1zM335 225h1v1h1v1h-1v1h-1v-1h-1v-1h1zM343 224h1v1h1v1h-1v1h-1v-1h-1v-1h1zM336 223h1v1h1v1h-1v1h-1v-1h-1v-1h1zM345 233h1v1h1v1h-1v1h-1v-1h-1v-1h1zM279 245h1v1h1v1h-1v1h-1v-1h-1v-1h1zM289 255h1v1h1v1h-1v1h-1v-1h-1v-1h1zM339 253h1v1h1v1h-1v1h-1v-1h-1v-1h1zM341 247h1v1h1v1h-1v1h-1v-1h-1v-1h1zM344 252h1v1h1v1h-1v1h-1v-1h-1v-1h1zM345 243h1v1h1v1h-1v1h-1v-1h-1v-1h1zM300 265h1v1h1v1h-1v1h-1v-1h-1v-1h1zM327 261h1v1h1v1h-1v1h-1v-1h-1v-1h1zM329 265h1v1h1v1h-1v1h-1v-1h-1v-1h1zM333 265h1v1h1v1h-1v1h-1v-1h-1v-1h1zM339 264h1v1h1v1h-1v1h-1v-1h-1v-1h1zM341 262h1v1h1v1h-1v1h-1v-1h-1v-1h1zM329 271h1v1h1v1h-1v1h-1v-1h-1v-1h1zM330 272h1v1h1v1h-1v1h-1v-1h-1v-1h1zM327 281h1v1h1v1h-1v1h-1v-1h-1v-1h1zM338 282h1v1h1v1h-1v1h-1v-1h-1v-1h1zM340 284h1v1h1v1h-1v1h-1v-1h-1v-1h1zM298 290h1v1h1v1h-1v1h-1v-1h-1v-1h1zM330 289h1v1h1v1h-1v1h-1v-1h-1v-1h1zM329 292h1v1h1v1h-1v1h-1v-1h-1v-1h1zM334 290h1v1h1v1h-1v1h-1v-1h-1v-1h1zM334 291h1v1h1v1h-1v1h-1v-1h-1v-1h1zM342 292h1v1h1v1h-1v1h-1v-1h-1v-1h1zM341 297h1v1h1v1h-1v1h-1v-1h-1v-1h1zM345 292h1v1h1v1h-1v1h-1v-1h-1v-1h1zM291 303h1v1h1v1h-1v1h-1v-1h-1v-1h1zM314 305h1v1h1v1h-1v1h-1v-1h-1v-1h1zM318 303h1v1h1v1h-1v1h-1v-1h-1v-1h1zM343 306h1v1h1v1h-1v1h-1v-1h-1v-1h1zM329 310h1v1h1v1h-1v1h-1v-1h-1v-1h1zM303 320h1v1h1v1h-1v1h-1v-1h-1v-1h1zM282 323h1v1h1v1h-1v1h-1v-1h-1v-1h1zM313 325h1v1h1v1h-1v1h-1v-1h-1v-1h1zM338 326h1v1h1v1h-1v1h-1v-1h-1v-1h1zM275 331h1v1h1v1h-1v1h-1v-1h-1v-1h1zM278 330h1v1h1v1h-1v1h-1v-1h-1v-1h1zM280 332h1v1h1v1h-1v1h-1v-1h-1v-1h1zM316 332h1v1h1v1h-1v1h-1v-1h-1v-1h1zM349 80h1v1h1v1h-1v1h-1v-1h-1v-1h1zM353 92h1v1h1v1h-1v1h-1v-1h-1v-1h1zM383 121h1v1h1v1h-1v1h-1v-1h-1v-1h1zM412 134h1v1h1v1h-1v1h-1v-1h-1v-1h1zM356 137h1v1h1v1h-1v1h-1v-1h-1v-1h1zM350 151h1v1h1v1h-1v1h-1v-1h-1v-1h1zM350 164h1v1h1v1h-1v1h-1v-1h-1v-1h1zM350 167h1v1h1v1h-1v1h-1v-1h-1v-1h1zM355 170h1v1h1v1h-1v1h-1v-1h-1v-1h1zM357 172h1v1h1v1h-1v1h-1v-1h-1v-1h1zM350 176h1v1h1v1h-1v1h-1v-1h-1v-1h1zM360 188h1v1h1v1h-1v1h-1v-1h-1v-1h1zM349 196h1v1h1v1h-1v1h-1v-1h-1v-1h1zM357 205h1v1h1v1h-1v1h-1v-1h-1v-1h1zM373 207h1v1h1v1h-1v1h-1v-1h-1v-1h1zM378 212h1v1h1v1h-1v1h-1v-1h-1v-1h1zM360 211h1v1h1v1h-1v1h-1v-1h-1v-1h1zM353 214h1v1h1v1h-1v1h-1v-1h-1v-1h1zM348 210h1v1h1v1h-1v1h-1v-1h-1v-1h1zM346 211h1v1h1v1h-1v1h-1v-1h-1v-1h1zM370 214h1v1h1v1h-1v1h-1v-1h-1v-1h1zM363 221h1v1h1v1h-1v1h-1v-1h-1v-1h1zM352 226h1v1h1v1h-1v1h-1v-1h-1v-1h1zM359 228h1v1h1v1h-1v1h-1v-1h-1v-1h1zM361 228h1v1h1v1h-1v1h-1v-1h-1v-1h1zM367 232h1v1h1v1h-1v1h-1v-1h-1v-1h1zM355 233h1v1h1v1h-1v1h-1v-1h-1v-1h1zM361 237h1v1h1v1h-1v1h-1v-1h-1v-1h1zM350 240h1v1h1v1h-1v1h-1v-1h-1v-1h1zM353 242h1v1h1v1h-1v1h-1v-1h-1v-1h1zM355 240h1v1h1v1h-1v1h-1v-1h-1v-1h1zM346 243h1v1h1v1h-1v1h-1v-1h-1v-1h1zM366 251h1v1h1v1h-1v1h-1v-1h-1v-1h1zM391 253h1v1h1v1h-1v1h-1v-1h-1v-1h1zM394 253h1v1h1v1h-1v1h-1v-1h-1v-1h1zM353 267h1v1h1v1h-1v1h-1v-1h-1v-1h1zM361 266h1v1h1v1h-1v1h-1v-1h-1v-1h1zM365 272h1v1h1v1h-1v1h-1v-1h-1v-1h1zM360 278h1v1h1v1h-1v1h-1v-1h-1v-1h1zM358 281h1v1h1v1h-1v1h-1v-1h-1v-1h1zM368 283h1v1h1v1h-1v1h-1v-1h-1v-1h1zM349 288h1v1h1v1h-1v1h-1v-1h-1v-1h1zM347 291h1v1h1v1h-1v1h-1v-1h-1v-1h1zM350 294h1v1h1v1h-1v1h-1v-1h-1v-1h1zM359 297h1v1h1v1h-1v1h-1v-1h-1v-1h1zM367 293h1v1h1v1h-1v1h-1v-1h-1v-1h1zM370 284h1v1h1v1h-1v1h-1v-1h-1v-1h1zM370 296h1v1h1v1h-1v1h-1v-1h-1v-1h1zM373 265h1v1h1v1h-1v1h-1v-1h-1v-1h1zM372 271h1v1h1v1h-1v1h-1v-1h-1v-1h1zM378 271h1v1h1v1h-1v1h-1v-1h-1v-1h1zM385 273h1v1h1v1h-1v1h-1v-1h-1v-1h1zM388 272h1v1h1v1h-1v1h-1v-1h-1v-1h1zM382 264h1v1h1v1h-1v1h-1v-1h-1v-1h1zM386 266h1v1h1v1h-1v1h-1v-1h-1v-1h1zM388 265h1v1h1v1h-1v1h-1v-1h-1v-1h1zM390 266h1v1h1v1h-1v1h-1v-1h-1v-1h1zM395 268h1v1h1v1h-1v1h-1v-1h-1v-1h1zM401 267h1v1h1v1h-1v1h-1v-1h-1v-1h1zM403 270h1v1h1v1h-1v1h-1v-1h-1v-1h1zM409 272h1v1h1v1h-1v1h-1v-1h-1v-1h1zM397 272h1v1h1v1h-1v1h-1v-1h-1v-1h1zM411 266h1v1h1v1h-1v1h-1v-1h-1v-1h1zM414 264h1v1h1v1h-1v1h-1v-1h-1v-1h1zM406 260h1v1h1v1h-1v1h-1v-1h-1v-1h1zM412 259h1v1h1v1h-1v1h-1v-1h-1v-1h1zM417 267h1v1h1v1h-1v1h-1v-1h-1v-1h1zM417 271h1v1h1v1h-1v1h-1v-1h-1v-1h1zM347 303h1v1h1v1h-1v1h-1v-1h-1v-1h1zM355 306h1v1h1v1h-1v1h-1v-1h-1v-1h1zM358 307h1v1h1v1h-1v1h-1v-1h-1v-1h1zM363 305h1v1h1v1h-1v1h-1v-1h-1v-1h1zM366 309h1v1h1v1h-1v1h-1v-1h-1v-1h1zM358 311h1v1h1v1h-1v1h-1v-1h-1v-1h1zM360 314h1v1h1v1h-1v1h-1v-1h-1v-1h1zM367 313h1v1h1v1h-1v1h-1v-1h-1v-1h1zM370 306h1v1h1v1h-1v1h-1v-1h-1v-1h1zM370 310h1v1h1v1h-1v1h-1v-1h-1v-1h1zM370 332h1v1h1v1h-1v1h-1v-1h-1v-1h1zM399 316h1v1h1v1h-1v1h-1v-1h-1v-1h1zM420 208h1v1h1v1h-1v1h-1v-1h-1v-1h1zM446 256h1v1h1v1h-1v1h-1v-1h-1v-1h1zM430 260h1v1h1v1h-1v1h-1v-1h-1v-1h1zM422 266h1v1h1v1h-1v1h-1v-1h-1v-1h1zM429 270h1v1h1v1h-1v1h-1v-1h-1v-1h1zM436 273h1v1h1v1h-1v1h-1v-1h-1v-1h1zM460 274h1v1h1v1h-1v1h-1v-1h-1v-1h1zM456 276h1v1h1v1h-1v1h-1v-1h-1v-1h1zM448 279h1v1h1v1h-1v1h-1v-1h-1v-1h1zM468 287h1v1h1v1h-1v1h-1v-1h-1v-1h1zM483 285h1v1h1v1h-1v1h-1v-1h-1v-1h1zM489 269h1v1h1v1h-1v1h-1v-1h-1v-1h1zM448 294h1v1h1v1h-1v1h-1v-1h-1v-1h1zM438 315h1v1h1v1h-1v1h-1v-1h-1v-1h1zM483 307h1v1h1v1h-1v1h-1v-1h-1v-1h1zM482 311h1v1h1v1h-1v1h-1v-1h-1v-1h1zM487 303h1v1h1v1h-1v1h-1v-1h-1v-1h1zM489 302h1v1h1v1h-1v1h-1v-1h-1v-1h1zM487 311h1v1h1v1h-1v1h-1v-1h-1v-1h1zM489 309h1v1h1v1h-1v1h-1v-1h-1v-1h1zM492 286h1v1h1v1h-1v1h-1v-1h-1v-1h1zM531 291h1v1h1v1h-1v1h-1v-1h-1v-1h1zM549 288h1v1h1v1h-1v1h-1v-1h-1v-1h1zM611 298h1v1h1v1h-1v1h-1v-1h-1v-1h1zM526 303h1v1h1v1h-1v1h-1v-1h-1v-1h1zM504 311h1v1h1v1h-1v1h-1v-1h-1v-1h1zM505 314h1v1h1v1h-1v1h-1v-1h-1v-1h1zM504 313h1v1h1v1h-1v1h-1v-1h-1v-1h1zM508 312h1v1h1v1h-1v1h-1v-1h-1v-1h1zM514 313h1v1h1v1h-1v1h-1v-1h-1v-1h1zM527 311h1v1h1v1h-1v1h-1v-1h-1v-1h1zM531 315h1v1h1v1h-1v1h-1v-1h-1v-1h1zM533 315h1v1h1v1h-1v1h-1v-1h-1v-1h1zM551 311h1v1h1v1h-1v1h-1v-1h-1v-1h1zM584 312h1v1h1v1h-1v1h-1v-1h-1v-1h1zM585 312h1v1h1v1h-1v1h-1v-1h-1v-1h1zM631 314h1v1h1v1h-1v1h-1v-1h-1v-1h1zM688 298h1v1h1v1h-1v1h-1v-1h-1v-1h1zM680 321h1v1h1v1h-1v1h-1v-1h-1v-1h1zM380 277h1v1h1v1h-1v1h-1v-1h-1v-1h1zM378 279h1v1h1v1h-1v1h-1v-1h-1v-1h1zM381 278h1v1h1v1h-1v1h-1v-1h-1v-1h1zM380 284h1v1h1v1h-1v1h-1v-1h-1v-1h1zM387 279h1v1h1v1h-1v1h-1v-1h-1v-1h1zM390 275h1v1h1v1h-1v1h-1v-1h-1v-1h1zM392 277h1v1h1v1h-1v1h-1v-1h-1v-1h1zM391 281h1v1h1v1h-1v1h-1v-1h-1v-1h1zM397 276h1v1h1v1h-1v1h-1v-1h-1v-1h1zM397 279h1v1h1v1h-1v1h-1v-1h-1v-1h1zM397 284h1v1h1v1h-1v1h-1v-1h-1v-1h1zM396 286h1v1h1v1h-1v1h-1v-1h-1v-1h1zM404 280h1v1h1v1h-1v1h-1v-1h-1v-1h1zM402 281h1v1h1v1h-1v1h-1v-1h-1v-1h1zM405 281h1v1h1v1h-1v1h-1v-1h-1v-1h1zM407 280h1v1h1v1h-1v1h-1v-1h-1v-1h1zM401 285h1v1h1v1h-1v1h-1v-1h-1v-1h1zM402 286h1v1h1v1h-1v1h-1v-1h-1v-1h1zM408 283h1v1h1v1h-1v1h-1v-1h-1v-1h1zM407 284h1v1h1v1h-1v1h-1v-1h-1v-1h1zM398 289h1v1h1v1h-1v1h-1v-1h-1v-1h1zM408 290h1v1h1v1h-1v1h-1v-1h-1v-1h1zM409 291h1v1h1v1h-1v1h-1v-1h-1v-1h1zM375 288h1v1h1v1h-1v1h-1v-1h-1v-1h1zM375 293h1v1h1v1h-1v1h-1v-1h-1v-1h1zM374 292h1v1h1v1h-1v1h-1v-1h-1v-1h1zM381 290h1v1h1v1h-1v1h-1v-1h-1v-1h1zM379 294h1v1h1v1h-1v1h-1v-1h-1v-1h1zM389 290h1v1h1v1h-1v1h-1v-1h-1v-1h1zM388 292h1v1h1v1h-1v1h-1v-1h-1v-1h1zM387 293h1v1h1v1h-1v1h-1v-1h-1v-1h1zM389 294h1v1h1v1h-1v1h-1v-1h-1v-1h1zM392 291h1v1h1v1h-1v1h-1v-1h-1v-1h1zM392 292h1v1h1v1h-1v1h-1v-1h-1v-1h1zM394 294h1v1h1v1h-1v1h-1v-1h-1v-1h1zM399 294h1v1h1v1h-1v1h-1v-1h-1v-1h1zM404 292h1v1h1v1h-1v1h-1v-1h-1v-1h1zM405 293h1v1h1v1h-1v1h-1v-1h-1v-1h1zM403 294h1v1h1v1h-1v1h-1v-1h-1v-1h1zM406 294h1v1h1v1h-1v1h-1v-1h-1v-1h1zM408 293h1v1h1v1h-1v1h-1v-1h-1v-1h1zM409 279h1v1h1v1h-1v1h-1v-1h-1v-1h1zM381 295h1v1h1v1h-1v1h-1v-1h-1v-1h1zM388 295h1v1h1v1h-1v1h-1v-1h-1v-1h1zM393 295h1v1h1v1h-1v1h-1v-1h-1v-1h1zM395 296h1v1h1v1h-1v1h-1v-1h-1v-1h1zM397 295h1v1h1v1h-1v1h-1v-1h-1v-1h1zM399 296h1v1h1v1h-1v1h-1v-1h-1v-1h1zM401 295h1v1h1v1h-1v1h-1v-1h-1v-1h1zM403 296h1v1h1v1h-1v1h-1v-1h-1v-1h1zM405 295h1v1h1v1h-1v1h-1v-1h-1v-1h1zM407 296h1v1h1v1h-1v1h-1v-1h-1v-1h1zM409 295h1v1h1v1h-1v1h-1v-1h-1v-1h1zM397 297h1v1h1v1h-1v1h-1v-1h-1v-1h1zM405 297h1v1h1v1h-1v1h-1v-1h-1v-1h1zM395 298h1v1h1v1h-1v1h-1v-1h-1v-1h1zM383 300h1v1h1v1h-1v1h-1v-1h-1v-1h1zM385 300h1v1h1v1h-1v1h-1v-1h-1v-1h1zM383 302h1v1h1v1h-1v1h-1v-1h-1v-1h1zM385 302h1v1h1v1h-1v1h-1v-1h-1v-1h1zM392 299h1v1h1v1h-1v1h-1v-1h-1v-1h1zM394 299h1v1h1v1h-1v1h-1v-1h-1v-1h1zM397 304h1v1h1v1h-1v1h-1v-1h-1v-1h1zM375 308h1v1h1v1h-1v1h-1v-1h-1v-1h1zM377 308h1v1h1v1h-1v1h-1v-1h-1v-1h1zM379 308h1v1h1v1h-1v1h-1v-1h-1v-1h1zM374 309h1v1h1v1h-1v1h-1v-1h-1v-1h1zM376 309h1v1h1v1h-1v1h-1v-1h-1v-1h1zM378 309h1v1h1v1h-1v1h-1v-1h-1v-1h1zM380 309h1v1h1v1h-1v1h-1v-1h-1v-1h1zM382 309h1v1h1v1h-1v1h-1v-1h-1v-1h1zM375 310h1v1h1v1h-1v1h-1v-1h-1v-1h1zM377 310h1v1h1v1h-1v1h-1v-1h-1v-1h1zM379 310h1v1h1v1h-1v1h-1v-1h-1v-1h1zM382 310h1v1h1v1h-1v1h-1v-1h-1v-1h1zM374 311h1v1h1v1h-1v1h-1v-1h-1v-1h1zM376 311h1v1h1v1h-1v1h-1v-1h-1v-1h1zM378 311h1v1h1v1h-1v1h-1v-1h-1v-1h1zM375 312h1v1h1v1h-1v1h-1v-1h-1v-1h1zM388 307h1v1h1v1h-1v1h-1v-1h-1v-1h1zM393 307h1v1h1v1h-1v1h-1v-1h-1v-1h1zM395 307h1v1h1v1h-1v1h-1v-1h-1v-1h1zM387 308h1v1h1v1h-1v1h-1v-1h-1v-1h1zM389 308h1v1h1v1h-1v1h-1v-1h-1v-1h1zM391 308h1v1h1v1h-1v1h-1v-1h-1v-1h1zM393 308h1v1h1v1h-1v1h-1v-1h-1v-1h1zM395 308h1v1h1v1h-1v1h-1v-1h-1v-1h1zM386 309h1v1h1v1h-1v1h-1v-1h-1v-1h1zM390 309h1v1h1v1h-1v1h-1v-1h-1v-1h1zM392 309h1v1h1v1h-1v1h-1v-1h-1v-1h1zM396 309h1v1h1v1h-1v1h-1v-1h-1v-1h1zM385 310h1v1h1v1h-1v1h-1v-1h-1v-1h1zM387 310h1v1h1v1h-1v1h-1v-1h-1v-1h1zM391 310h1v1h1v1h-1v1h-1v-1h-1v-1h1zM395 310h1v1h1v1h-1v1h-1v-1h-1v-1h1zM397 310h1v1h1v1h-1v1h-1v-1h-1v-1h1zM384 311h1v1h1v1h-1v1h-1v-1h-1v-1h1zM386 311h1v1h1v1h-1v1h-1v-1h-1v-1h1zM388 311h1v1h1v1h-1v1h-1v-1h-1v-1h1zM392 311h1v1h1v1h-1v1h-1v-1h-1v-1h1zM394 311h1v1h1v1h-1v1h-1v-1h-1v-1h1zM396 311h1v1h1v1h-1v1h-1v-1h-1v-1h1zM398 311h1v1h1v1h-1v1h-1v-1h-1v-1h1zM385 312h1v1h1v1h-1v1h-1v-1h-1v-1h1zM387 312h1v1h1v1h-1v1h-1v-1h-1v-1h1zM389 312h1v1h1v1h-1v1h-1v-1h-1v-1h1zM393 312h1v1h1v1h-1v1h-1v-1h-1v-1h1zM386 313h1v1h1v1h-1v1h-1v-1h-1v-1h1zM388 313h1v1h1v1h-1v1h-1v-1h-1v-1h1zM391 313h1v1h1v1h-1v1h-1v-1h-1v-1h1zM392 314h1v1h1v1h-1v1h-1v-1h-1v-1h1zM403 300h1v1h1v1h-1v1h-1v-1h-1v-1h1zM409 300h1v1h1v1h-1v1h-1v-1h-1v-1h1zM404 302h1v1h1v1h-1v1h-1v-1h-1v-1h1zM407 302h1v1h1v1h-1v1h-1v-1h-1v-1h1zM403 303h1v1h1v1h-1v1h-1v-1h-1v-1h1zM400 305h1v1h1v1h-1v1h-1v-1h-1v-1h1zM404 305h1v1h1v1h-1v1h-1v-1h-1v-1h1zM406 305h1v1h1v1h-1v1h-1v-1h-1v-1h1zM401 306h1v1h1v1h-1v1h-1v-1h-1v-1h1zM403 306h1v1h1v1h-1v1h-1v-1h-1v-1h1zM407 306h1v1h1v1h-1v1h-1v-1h-1v-1h1zM409 306h1v1h1v1h-1v1h-1v-1h-1v-1h1zM400 307h1v1h1v1h-1v1h-1v-1h-1v-1h1zM402 307h1v1h1v1h-1v1h-1v-1h-1v-1h1zM401 308h1v1h1v1h-1v1h-1v-1h-1v-1h1zM400 309h1v1h1v1h-1v1h-1v-1h-1v-1h1zM402 309h1v1h1v1h-1v1h-1v-1h-1v-1h1zM409 309h1v1h1v1h-1v1h-1v-1h-1v-1h1zM399 310h1v1h1v1h-1v1h-1v-1h-1v-1h1zM401 310h1v1h1v1h-1v1h-1v-1h-1v-1h1zM400 311h1v1h1v1h-1v1h-1v-1h-1v-1h1zM402 311h1v1h1v1h-1v1h-1v-1h-1v-1h1zM409 311h1v1h1v1h-1v1h-1v-1h-1v-1h1zM399 312h1v1h1v1h-1v1h-1v-1h-1v-1h1zM401 312h1v1h1v1h-1v1h-1v-1h-1v-1h1zM403 312h1v1h1v1h-1v1h-1v-1h-1v-1h1zM408 312h1v1h1v1h-1v1h-1v-1h-1v-1h1zM400 313h1v1h1v1h-1v1h-1v-1h-1v-1h1zM402 313h1v1h1v1h-1v1h-1v-1h-1v-1h1zM404 313h1v1h1v1h-1v1h-1v-1h-1v-1h1zM406 313h1v1h1v1h-1v1h-1v-1h-1v-1h1zM409 313h1v1h1v1h-1v1h-1v-1h-1v-1h1zM399 314h1v1h1v1h-1v1h-1v-1h-1v-1h1zM401 314h1v1h1v1h-1v1h-1v-1h-1v-1h1zM403 314h1v1h1v1h-1v1h-1v-1h-1v-1h1zM405 314h1v1h1v1h-1v1h-1v-1h-1v-1h1zM408 314h1v1h1v1h-1v1h-1v-1h-1v-1h1zM406 309h1v1h1v1h-1v1h-1v-1h-1v-1h1zM419 275h1v1h1v1h-1v1h-1v-1h-1v-1h1zM420 276h1v1h1v1h-1v1h-1v-1h-1v-1h1zM436 275h1v1h1v1h-1v1h-1v-1h-1v-1h1zM416 283h1v1h1v1h-1v1h-1v-1h-1v-1h1zM419 283h1v1h1v1h-1v1h-1v-1h-1v-1h1zM427 286h1v1h1v1h-1v1h-1v-1h-1v-1h1zM433 285h1v1h1v1h-1v1h-1v-1h-1v-1h1zM437 285h1v1h1v1h-1v1h-1v-1h-1v-1h1zM434 289h1v1h1v1h-1v1h-1v-1h-1v-1h1zM434 291h1v1h1v1h-1v1h-1v-1h-1v-1h1zM419 287h1v1h1v1h-1v1h-1v-1h-1v-1h1zM413 288h1v1h1v1h-1v1h-1v-1h-1v-1h1zM418 290h1v1h1v1h-1v1h-1v-1h-1v-1h1zM415 292h1v1h1v1h-1v1h-1v-1h-1v-1h1zM416 293h1v1h1v1h-1v1h-1v-1h-1v-1h1zM414 294h1v1h1v1h-1v1h-1v-1h-1v-1h1zM417 294h1v1h1v1h-1v1h-1v-1h-1v-1h1zM420 294h1v1h1v1h-1v1h-1v-1h-1v-1h1zM425 292h1v1h1v1h-1v1h-1v-1h-1v-1h1zM426 293h1v1h1v1h-1v1h-1v-1h-1v-1h1zM428 294h1v1h1v1h-1v1h-1v-1h-1v-1h1zM431 293h1v1h1v1h-1v1h-1v-1h-1v-1h1zM432 294h1v1h1v1h-1v1h-1v-1h-1v-1h1zM423 294h1v1h1v1h-1v1h-1v-1h-1v-1h1zM444 294h1v1h1v1h-1v1h-1v-1h-1v-1h1zM410 295h1v1h1v1h-1v1h-1v-1h-1v-1h1zM420 295h1v1h1v1h-1v1h-1v-1h-1v-1h1zM425 295h1v1h1v1h-1v1h-1v-1h-1v-1h1zM430 295h1v1h1v1h-1v1h-1v-1h-1v-1h1zM440 295h1v1h1v1h-1v1h-1v-1h-1v-1h1zM445 295h1v1h1v1h-1v1h-1v-1h-1v-1h1zM413 296h1v1h1v1h-1v1h-1v-1h-1v-1h1zM418 296h1v1h1v1h-1v1h-1v-1h-1v-1h1zM423 296h1v1h1v1h-1v1h-1v-1h-1v-1h1zM428 296h1v1h1v1h-1v1h-1v-1h-1v-1h1zM433 296h1v1h1v1h-1v1h-1v-1h-1v-1h1zM438 296h1v1h1v1h-1v1h-1v-1h-1v-1h1zM443 296h1v1h1v1h-1v1h-1v-1h-1v-1h1zM411 297h1v1h1v1h-1v1h-1v-1h-1v-1h1zM416 297h1v1h1v1h-1v1h-1v-1h-1v-1h1zM421 297h1v1h1v1h-1v1h-1v-1h-1v-1h1zM426 297h1v1h1v1h-1v1h-1v-1h-1v-1h1zM431 297h1v1h1v1h-1v1h-1v-1h-1v-1h1zM436 297h1v1h1v1h-1v1h-1v-1h-1v-1h1zM441 297h1v1h1v1h-1v1h-1v-1h-1v-1h1zM414 298h1v1h1v1h-1v1h-1v-1h-1v-1h1zM419 298h1v1h1v1h-1v1h-1v-1h-1v-1h1zM424 298h1v1h1v1h-1v1h-1v-1h-1v-1h1zM429 298h1v1h1v1h-1v1h-1v-1h-1v-1h1zM434 298h1v1h1v1h-1v1h-1v-1h-1v-1h1zM439 298h1v1h1v1h-1v1h-1v-1h-1v-1h1zM444 298h1v1h1v1h-1v1h-1v-1h-1v-1h1zM417 299h1v1h1v1h-1v1h-1v-1h-1v-1h1zM427 299h1v1h1v1h-1v1h-1v-1h-1v-1h1zM437 299h1v1h1v1h-1v1h-1v-1h-1v-1h1zM442 299h1v1h1v1h-1v1h-1v-1h-1v-1h1zM415 300h1v1h1v1h-1v1h-1v-1h-1v-1h1zM425 300h1v1h1v1h-1v1h-1v-1h-1v-1h1zM430 300h1v1h1v1h-1v1h-1v-1h-1v-1h1zM435 300h1v1h1v1h-1v1h-1v-1h-1v-1h1zM440 300h1v1h1v1h-1v1h-1v-1h-1v-1h1zM445 300h1v1h1v1h-1v1h-1v-1h-1v-1h1zM418 301h1v1h1v1h-1v1h-1v-1h-1v-1h1zM428 301h1v1h1v1h-1v1h-1v-1h-1v-1h1zM416 302h1v1h1v1h-1v1h-1v-1h-1v-1h1zM421 302h1v1h1v1h-1v1h-1v-1h-1v-1h1zM426 302h1v1h1v1h-1v1h-1v-1h-1v-1h1zM431 302h1v1h1v1h-1v1h-1v-1h-1v-1h1zM436 302h1v1h1v1h-1v1h-1v-1h-1v-1h1zM414 303h1v1h1v1h-1v1h-1v-1h-1v-1h1zM419 303h1v1h1v1h-1v1h-1v-1h-1v-1h1zM424 303h1v1h1v1h-1v1h-1v-1h-1v-1h1zM429 303h1v1h1v1h-1v1h-1v-1h-1v-1h1zM434 303h1v1h1v1h-1v1h-1v-1h-1v-1h1zM439 303h1v1h1v1h-1v1h-1v-1h-1v-1h1zM412 304h1v1h1v1h-1v1h-1v-1h-1v-1h1zM417 304h1v1h1v1h-1v1h-1v-1h-1v-1h1zM422 304h1v1h1v1h-1v1h-1v-1h-1v-1h1zM427 304h1v1h1v1h-1v1h-1v-1h-1v-1h1zM432 304h1v1h1v1h-1v1h-1v-1h-1v-1h1zM437 304h1v1h1v1h-1v1h-1v-1h-1v-1h1zM410 305h1v1h1v1h-1v1h-1v-1h-1v-1h1zM415 305h1v1h1v1h-1v1h-1v-1h-1v-1h1zM420 305h1v1h1v1h-1v1h-1v-1h-1v-1h1zM425 305h1v1h1v1h-1v1h-1v-1h-1v-1h1zM430 305h1v1h1v1h-1v1h-1v-1h-1v-1h1zM435 305h1v1h1v1h-1v1h-1v-1h-1v-1h1zM440 305h1v1h1v1h-1v1h-1v-1h-1v-1h1zM413 306h1v1h1v1h-1v1h-1v-1h-1v-1h1zM418 306h1v1h1v1h-1v1h-1v-1h-1v-1h1zM428 306h1v1h1v1h-1v1h-1v-1h-1v-1h1zM433 306h1v1h1v1h-1v1h-1v-1h-1v-1h1zM438 306h1v1h1v1h-1v1h-1v-1h-1v-1h1zM443 306h1v1h1v1h-1v1h-1v-1h-1v-1h1zM411 307h1v1h1v1h-1v1h-1v-1h-1v-1h1zM426 307h1v1h1v1h-1v1h-1v-1h-1v-1h1zM431 307h1v1h1v1h-1v1h-1v-1h-1v-1h1zM436 307h1v1h1v1h-1v1h-1v-1h-1v-1h1zM441 307h1v1h1v1h-1v1h-1v-1h-1v-1h1zM414 308h1v1h1v1h-1v1h-1v-1h-1v-1h1zM434 308h1v1h1v1h-1v1h-1v-1h-1v-1h1zM439 308h1v1h1v1h-1v1h-1v-1h-1v-1h1zM444 308h1v1h1v1h-1v1h-1v-1h-1v-1h1zM412 309h1v1h1v1h-1v1h-1v-1h-1v-1h1zM417 309h1v1h1v1h-1v1h-1v-1h-1v-1h1zM432 309h1v1h1v1h-1v1h-1v-1h-1v-1h1zM437 309h1v1h1v1h-1v1h-1v-1h-1v-1h1zM410 310h1v1h1v1h-1v1h-1v-1h-1v-1h1zM415 310h1v1h1v1h-1v1h-1v-1h-1v-1h1zM420 310h1v1h1v1h-1v1h-1v-1h-1v-1h1zM425 310h1v1h1v1h-1v1h-1v-1h-1v-1h1zM430 310h1v1h1v1h-1v1h-1v-1h-1v-1h1zM435 310h1v1h1v1h-1v1h-1v-1h-1v-1h1zM440 310h1v1h1v1h-1v1h-1v-1h-1v-1h1zM445 310h1v1h1v1h-1v1h-1v-1h-1v-1h1zM413 311h1v1h1v1h-1v1h-1v-1h-1v-1h1zM418 311h1v1h1v1h-1v1h-1v-1h-1v-1h1zM423 311h1v1h1v1h-1v1h-1v-1h-1v-1h1zM428 311h1v1h1v1h-1v1h-1v-1h-1v-1h1zM433 311h1v1h1v1h-1v1h-1v-1h-1v-1h1zM443 311h1v1h1v1h-1v1h-1v-1h-1v-1h1zM411 312h1v1h1v1h-1v1h-1v-1h-1v-1h1zM416 312h1v1h1v1h-1v1h-1v-1h-1v-1h1zM421 312h1v1h1v1h-1v1h-1v-1h-1v-1h1zM426 312h1v1h1v1h-1v1h-1v-1h-1v-1h1zM431 312h1v1h1v1h-1v1h-1v-1h-1v-1h1zM436 312h1v1h1v1h-1v1h-1v-1h-1v-1h1zM441 312h1v1h1v1h-1v1h-1v-1h-1v-1h1zM414 313h1v1h1v1h-1v1h-1v-1h-1v-1h1zM419 313h1v1h1v1h-1v1h-1v-1h-1v-1h1zM424 313h1v1h1v1h-1v1h-1v-1h-1v-1h1zM429 313h1v1h1v1h-1v1h-1v-1h-1v-1h1zM434 313h1v1h1v1h-1v1h-1v-1h-1v-1h1zM439 313h1v1h1v1h-1v1h-1v-1h-1v-1h1zM417 314h1v1h1v1h-1v1h-1v-1h-1v-1h1zM422 314h1v1h1v1h-1v1h-1v-1h-1v-1h1zM432 314h1v1h1v1h-1v1h-1v-1h-1v-1h1zM437 314h1v1h1v1h-1v1h-1v-1h-1v-1h1zM442 314h1v1h1v1h-1v1h-1v-1h-1v-1h1zM461 295h1v1h1v1h-1v1h-1v-1h-1v-1h1zM462 296h1v1h1v1h-1v1h-1v-1h-1v-1h1zM473 296h1v1h1v1h-1v1h-1v-1h-1v-1h1zM451 298h1v1h1v1h-1v1h-1v-1h-1v-1h1zM455 298h1v1h1v1h-1v1h-1v-1h-1v-1h1zM449 301h1v1h1v1h-1v1h-1v-1h-1v-1h1zM448 302h1v1h1v1h-1v1h-1v-1h-1v-1h1zM447 303h1v1h1v1h-1v1h-1v-1h-1v-1h1zM446 303h1v1h1v1h-1v1h-1v-1h-1v-1h1zM464 302h1v1h1v1h-1v1h-1v-1h-1v-1h1zM468 306h1v1h1v1h-1v1h-1v-1h-1v-1h1zM457 307h1v1h1v1h-1v1h-1v-1h-1v-1h1zM455 309h1v1h1v1h-1v1h-1v-1h-1v-1h1zM458 309h1v1h1v1h-1v1h-1v-1h-1v-1h1zM456 312h1v1h1v1h-1v1h-1v-1h-1v-1h1zM464 310h1v1h1v1h-1v1h-1v-1h-1v-1h1zM469 311h1v1h1v1h-1v1h-1v-1h-1v-1h1zM467 312h1v1h1v1h-1v1h-1v-1h-1v-1h1zM466 313h1v1h1v1h-1v1h-1v-1h-1v-1h1zM468 313h1v1h1v1h-1v1h-1v-1h-1v-1h1zM470 311h1v1h1v1h-1v1h-1v-1h-1v-1h1zM467 314h1v1h1v1h-1v1h-1v-1h-1v-1h1zM476 311h1v1h1v1h-1v1h-1v-1h-1v-1h1zM474 312h1v1h1v1h-1v1h-1v-1h-1v-1h1zM476 313h1v1h1v1h-1v1h-1v-1h-1v-1h1zM478 312h1v1h1v1h-1v1h-1v-1h-1v-1h1zM473 313h1v1h1v1h-1v1h-1v-1h-1v-1h1zM477 314h1v1h1v1h-1v1h-1v-1h-1v-1h1zM481 311h1v1h1v1h-1v1h-1v-1h-1v-1h1zM447 307h1v1h1v1h-1v1h-1v-1h-1v-1h1zM446 308h1v1h1v1h-1v1h-1v-1h-1v-1h1zM448 309h1v1h1v1h-1v1h-1v-1h-1v-1h1zM447 311h1v1h1v1h-1v1h-1v-1h-1v-1h1zM449 312h1v1h1v1h-1v1h-1v-1h-1v-1h1zM451 311h1v1h1v1h-1v1h-1v-1h-1v-1h1zM452 312h1v1h1v1h-1v1h-1v-1h-1v-1h1zM453 313h1v1h1v1h-1v1h-1v-1h-1v-1h1zM451 308h1v1h1v1h-1v1h-1v-1h-1v-1h1zM447 313h1v1h1v1h-1v1h-1v-1h-1v-1h1zM450 313h1v1h1v1h-1v1h-1v-1h-1v-1h1zM452 314h1v1h1v1h-1v1h-1v-1h-1v-1h1z"/>
<path fill="#5f6b14" d="M321 64h1v1h1v1h-1v1h-1v-1h-1v-1h1zM322 66h1v1h1v1h-1v1h-1v-1h-1v-1h1zM323 68h1v1h1v1h-1v1h-1v-1h-1v-1h1zM329 65h1v1h1v1h-1v1h-1v-1h-1v-1h1zM335 66h1v1h1v1h-1v1h-1v-1h-1v-1h1zM378 277h1v1h1v1h-1v1h-1v-1h-1v-1h1zM379 282h1v1h1v1h-1v1h-1v-1h-1v-1h1zM383 281h1v1h1v1h-1v1h-1v-1h-1v-1h1zM385 282h1v1h1v1h-1v1h-1v-1h-1v-1h1zM394 277h1v1h1v1h-1v1h-1v-1h-1v-1h1zM391 278h1v1h1v1h-1v1h-1v-1h-1v-1h1zM391 283h1v1h1v1h-1v1h-1v-1h-1v-1h1zM392 287h1v1h1v1h-1v1h-1v-1h-1v-1h1zM393 288h1v1h1v1h-1v1h-1v-1h-1v-1h1zM396 279h1v1h1v1h-1v1h-1v-1h-1v-1h1zM396 283h1v1h1v1h-1v1h-1v-1h-1v-1h1zM402 277h1v1h1v1h-1v1h-1v-1h-1v-1h1zM403 278h1v1h1v1h-1v1h-1v-1h-1v-1h1zM400 279h1v1h1v1h-1v1h-1v-1h-1v-1h1zM403 279h1v1h1v1h-1v1h-1v-1h-1v-1h1zM399 284h1v1h1v1h-1v1h-1v-1h-1v-1h1zM400 284h1v1h1v1h-1v1h-1v-1h-1v-1h1zM403 285h1v1h1v1h-1v1h-1v-1h-1v-1h1zM409 285h1v1h1v1h-1v1h-1v-1h-1v-1h1zM408 287h1v1h1v1h-1v1h-1v-1h-1v-1h1zM402 288h1v1h1v1h-1v1h-1v-1h-1v-1h1zM403 289h1v1h1v1h-1v1h-1v-1h-1v-1h1zM400 290h1v1h1v1h-1v1h-1v-1h-1v-1h1zM401 289h1v1h1v1h-1v1h-1v-1h-1v-1h1zM403 290h1v1h1v1h-1v1h-1v-1h-1v-1h1zM375 290h1v1h1v1h-1v1h-1v-1h-1v-1h1zM402 294h1v1h1v1h-1v1h-1v-1h-1v-1h1zM409 281h1v1h1v1h-1v1h-1v-1h-1v-1h1zM387 298h1v1h1v1h-1v1h-1v-1h-1v-1h1zM387 299h1v1h1v1h-1v1h-1v-1h-1v-1h1zM390 299h1v1h1v1h-1v1h-1v-1h-1v-1h1zM390 301h1v1h1v1h-1v1h-1v-1h-1v-1h1zM387 303h1v1h1v1h-1v1h-1v-1h-1v-1h1zM386 304h1v1h1v1h-1v1h-1v-1h-1v-1h1zM385 305h1v1h1v1h-1v1h-1v-1h-1v-1h1zM383 306h1v1h1v1h-1v1h-1v-1h-1v-1h1zM384 305h1v1h1v1h-1v1h-1v-1h-1v-1h1zM387 304h1v1h1v1h-1v1h-1v-1h-1v-1h1zM386 306h1v1h1v1h-1v1h-1v-1h-1v-1h1zM385 308h1v1h1v1h-1v1h-1v-1h-1v-1h1zM391 306h1v1h1v1h-1v1h-1v-1h-1v-1h1zM390 306h1v1h1v1h-1v1h-1v-1h-1v-1h1zM400 301h1v1h1v1h-1v1h-1v-1h-1v-1h1zM406 299h1v1h1v1h-1v1h-1v-1h-1v-1h1zM403 297h1v1h1v1h-1v1h-1v-1h-1v-1h1zM408 296h1v1h1v1h-1v1h-1v-1h-1v-1h1zM402 304h1v1h1v1h-1v1h-1v-1h-1v-1h1zM405 304h1v1h1v1h-1v1h-1v-1h-1v-1h1zM408 305h1v1h1v1h-1v1h-1v-1h-1v-1h1zM398 308h1v1h1v1h-1v1h-1v-1h-1v-1h1zM399 307h1v1h1v1h-1v1h-1v-1h-1v-1h1zM397 309h1v1h1v1h-1v1h-1v-1h-1v-1h1zM380 310h1v1h1v1h-1v1h-1v-1h-1v-1h1zM381 312h1v1h1v1h-1v1h-1v-1h-1v-1h1zM384 310h1v1h1v1h-1v1h-1v-1h-1v-1h1zM397 314h1v1h1v1h-1v1h-1v-1h-1v-1h1zM420 278h1v1h1v1h-1v1h-1v-1h-1v-1h1zM414 278h1v1h1v1h-1v1h-1v-1h-1v-1h1zM410 279h1v1h1v1h-1v1h-1v-1h-1v-1h1zM410 281h1v1h1v1h-1v1h-1v-1h-1v-1h1zM425 279h1v1h1v1h-1v1h-1v-1h-1v-1h1zM429 282h1v1h1v1h-1v1h-1v-1h-1v-1h1zM418 284h1v1h1v1h-1v1h-1v-1h-1v-1h1zM420 285h1v1h1v1h-1v1h-1v-1h-1v-1h1zM421 286h1v1h1v1h-1v1h-1v-1h-1v-1h1zM422 287h1v1h1v1h-1v1h-1v-1h-1v-1h1zM423 288h1v1h1v1h-1v1h-1v-1h-1v-1h1zM424 289h1v1h1v1h-1v1h-1v-1h-1v-1h1zM426 289h1v1h1v1h-1v1h-1v-1h-1v-1h1zM427 290h1v1h1v1h-1v1h-1v-1h-1v-1h1zM428 289h1v1h1v1h-1v1h-1v-1h-1v-1h1zM420 289h1v1h1v1h-1v1h-1v-1h-1v-1h1zM423 291h1v1h1v1h-1v1h-1v-1h-1v-1h1zM421 288h1v1h1v1h-1v1h-1v-1h-1v-1h1zM433 288h1v1h1v1h-1v1h-1v-1h-1v-1h1zM413 287h1v1h1v1h-1v1h-1v-1h-1v-1h1zM410 285h1v1h1v1h-1v1h-1v-1h-1v-1h1zM411 289h1v1h1v1h-1v1h-1v-1h-1v-1h1zM410 291h1v1h1v1h-1v1h-1v-1h-1v-1h1zM412 293h1v1h1v1h-1v1h-1v-1h-1v-1h1zM414 290h1v1h1v1h-1v1h-1v-1h-1v-1h1zM419 292h1v1h1v1h-1v1h-1v-1h-1v-1h1zM424 294h1v1h1v1h-1v1h-1v-1h-1v-1h1zM439 293h1v1h1v1h-1v1h-1v-1h-1v-1h1zM438 294h1v1h1v1h-1v1h-1v-1h-1v-1h1zM415 299h1v1h1v1h-1v1h-1v-1h-1v-1h1zM419 298h1v1h1v1h-1v1h-1v-1h-1v-1h1zM418 300h1v1h1v1h-1v1h-1v-1h-1v-1h1zM418 302h1v1h1v1h-1v1h-1v-1h-1v-1h1zM417 303h1v1h1v1h-1v1h-1v-1h-1v-1h1zM416 304h1v1h1v1h-1v1h-1v-1h-1v-1h1zM423 297h1v1h1v1h-1v1h-1v-1h-1v-1h1zM419 311h1v1h1v1h-1v1h-1v-1h-1v-1h1zM419 309h1v1h1v1h-1v1h-1v-1h-1v-1h1zM420 308h1v1h1v1h-1v1h-1v-1h-1v-1h1zM421 307h1v1h1v1h-1v1h-1v-1h-1v-1h1zM423 307h1v1h1v1h-1v1h-1v-1h-1v-1h1zM423 306h1v1h1v1h-1v1h-1v-1h-1v-1h1zM424 305h1v1h1v1h-1v1h-1v-1h-1v-1h1zM424 304h1v1h1v1h-1v1h-1v-1h-1v-1h1zM425 304h1v1h1v1h-1v1h-1v-1h-1v-1h1zM426 303h1v1h1v1h-1v1h-1v-1h-1v-1h1zM427 302h1v1h1v1h-1v1h-1v-1h-1v-1h1zM427 300h1v1h1v1h-1v1h-1v-1h-1v-1h1zM427 299h1v1h1v1h-1v1h-1v-1h-1v-1h1zM428 301h1v1h1v1h-1v1h-1v-1h-1v-1h1zM429 302h1v1h1v1h-1v1h-1v-1h-1v-1h1zM428 304h1v1h1v1h-1v1h-1v-1h-1v-1h1zM429 305h1v1h1v1h-1v1h-1v-1h-1v-1h1zM423 303h1v1h1v1h-1v1h-1v-1h-1v-1h1zM431 298h1v1h1v1h-1v1h-1v-1h-1v-1h1zM431 297h1v1h1v1h-1v1h-1v-1h-1v-1h1zM431 295h1v1h1v1h-1v1h-1v-1h-1v-1h1zM435 297h1v1h1v1h-1v1h-1v-1h-1v-1h1zM436 296h1v1h1v1h-1v1h-1v-1h-1v-1h1zM437 295h1v1h1v1h-1v1h-1v-1h-1v-1h1zM438 296h1v1h1v1h-1v1h-1v-1h-1v-1h1zM439 297h1v1h1v1h-1v1h-1v-1h-1v-1h1zM438 299h1v1h1v1h-1v1h-1v-1h-1v-1h1zM439 298h1v1h1v1h-1v1h-1v-1h-1v-1h1zM444 298h1v1h1v1h-1v1h-1v-1h-1v-1h1zM442 296h1v1h1v1h-1v1h-1v-1h-1v-1h1zM434 300h1v1h1v1h-1v1h-1v-1h-1v-1h1zM433 302h1v1h1v1h-1v1h-1v-1h-1v-1h1zM439 304h1v1h1v1h-1v1h-1v-1h-1v-1h1zM438 305h1v1h1v1h-1v1h-1v-1h-1v-1h1zM439 306h1v1h1v1h-1v1h-1v-1h-1v-1h1zM441 307h1v1h1v1h-1v1h-1v-1h-1v-1h1zM440 303h1v1h1v1h-1v1h-1v-1h-1v-1h1zM434 305h1v1h1v1h-1v1h-1v-1h-1v-1h1zM432 309h1v1h1v1h-1v1h-1v-1h-1v-1h1zM433 308h1v1h1v1h-1v1h-1v-1h-1v-1h1zM412 305h1v1h1v1h-1v1h-1v-1h-1v-1h1zM411 306h1v1h1v1h-1v1h-1v-1h-1v-1h1zM410 307h1v1h1v1h-1v1h-1v-1h-1v-1h1zM416 307h1v1h1v1h-1v1h-1v-1h-1v-1h1zM413 310h1v1h1v1h-1v1h-1v-1h-1v-1h1zM412 310h1v1h1v1h-1v1h-1v-1h-1v-1h1zM417 313h1v1h1v1h-1v1h-1v-1h-1v-1h1zM422 314h1v1h1v1h-1v1h-1v-1h-1v-1h1zM438 313h1v1h1v1h-1v1h-1v-1h-1v-1h1zM442 314h1v1h1v1h-1v1h-1v-1h-1v-1h1zM426 295h1v1h1v1h-1v1h-1v-1h-1v-1h1zM447 295h1v1h1v1h-1v1h-1v-1h-1v-1h1zM449 295h1v1h1v1h-1v1h-1v-1h-1v-1h1zM457 295h1v1h1v1h-1v1h-1v-1h-1v-1h1zM454 304h1v1h1v1h-1v1h-1v-1h-1v-1h1zM455 304h1v1h1v1h-1v1h-1v-1h-1v-1h1zM451 306h1v1h1v1h-1v1h-1v-1h-1v-1h1zM453 307h1v1h1v1h-1v1h-1v-1h-1v-1h1zM453 308h1v1h1v1h-1v1h-1v-1h-1v-1h1zM452 307h1v1h1v1h-1v1h-1v-1h-1v-1h1zM479 306h1v1h1v1h-1v1h-1v-1h-1v-1h1zM478 308h1v1h1v1h-1v1h-1v-1h-1v-1h1zM480 309h1v1h1v1h-1v1h-1v-1h-1v-1h1zM477 309h1v1h1v1h-1v1h-1v-1h-1v-1h1zM479 308h1v1h1v1h-1v1h-1v-1h-1v-1h1zM461 310h1v1h1v1h-1v1h-1v-1h-1v-1h1zM468 309h1v1h1v1h-1v1h-1v-1h-1v-1h1zM446 306h1v1h1v1h-1v1h-1v-1h-1v-1h1zM447 314h1v1h1v1h-1v1h-1v-1h-1v-1h1zM449 314h1v1h1v1h-1v1h-1v-1h-1v-1h1z"/>
<path fill="#b2c04e" d="M321 65h1v1h-1zM322 67h1v1h-1zM323 69h1v1h-1zM329 66h1v1h-1zM335 67h1v1h-1zM378 278h1v1h-1zM379 283h1v1h-1zM383 282h1v1h-1zM385 283h1v1h-1zM394 278h1v1h-1zM391 279h1v1h-1zM391 284h1v1h-1zM392 288h1v1h-1zM393 289h1v1h-1zM396 280h1v1h-1zM396 284h1v1h-1zM402 278h1v1h-1zM403 279h1v1h-1zM400 280h1v1h-1zM403 280h1v1h-1zM399 285h1v1h-1zM400 285h1v1h-1zM403 286h1v1h-1zM409 286h1v1h-1zM408 288h1v1h-1zM402 289h1v1h-1zM403 290h1v1h-1zM400 291h1v1h-1zM401 290h1v1h-1zM403 291h1v1h-1zM375 291h1v1h-1zM402 295h1v1h-1zM409 282h1v1h-1zM387 299h1v1h-1zM387 300h1v1h-1zM390 300h1v1h-1zM390 302h1v1h-1zM387 304h1v1h-1zM386 305h1v1h-1zM385 306h1v1h-1zM383 307h1v1h-1zM384 306h1v1h-1zM387 305h1v1h-1zM386 307h1v1h-1zM385 309h1v1h-1zM391 307h1v1h-1zM390 307h1v1h-1zM400 302h1v1h-1zM406 300h1v1h-1zM403 298h1v1h-1zM408 297h1v1h-1zM402 305h1v1h-1zM405 305h1v1h-1zM408 306h1v1h-1zM398 309h1v1h-1zM399 308h1v1h-1zM397 310h1v1h-1zM380 311h1v1h-1zM381 313h1v1h-1zM384 311h1v1h-1zM397 315h1v1h-1zM420 279h1v1h-1zM414 279h1v1h-1zM410 280h1v1h-1zM410 282h1v1h-1zM425 280h1v1h-1zM429 283h1v1h-1zM418 285h1v1h-1zM420 286h1v1h-1zM421 287h1v1h-1zM422 288h1v1h-1zM423 289h1v1h-1zM424 290h1v1h-1zM426 290h1v1h-1zM427 291h1v1h-1zM428 290h1v1h-1zM420 290h1v1h-1zM423 292h1v1h-1zM421 289h1v1h-1zM433 289h1v1h-1zM413 288h1v1h-1zM410 286h1v1h-1zM411 290h1v1h-1zM410 292h1v1h-1zM412 294h1v1h-1zM414 291h1v1h-1zM419 293h1v1h-1zM424 295h1v1h-1zM439 294h1v1h-1zM438 295h1v1h-1zM415 300h1v1h-1zM419 299h1v1h-1zM418 301h1v1h-1zM418 303h1v1h-1zM417 304h1v1h-1zM416 305h1v1h-1zM423 298h1v1h-1zM419 312h1v1h-1zM419 310h1v1h-1zM420 309h1v1h-1zM421 308h1v1h-1zM423 308h1v1h-1zM423 307h1v1h-1zM424 306h1v1h-1zM424 305h1v1h-1zM425 305h1v1h-1zM426 304h1v1h-1zM427 303h1v1h-1zM427 301h1v1h-1zM427 300h1v1h-1zM428 302h1v1h-1zM429 303h1v1h-1zM428 305h1v1h-1zM429 306h1v1h-1zM423 304h1v1h-1zM431 299h1v1h-1zM431 298h1v1h-1zM431 296h1v1h-1zM435 298h1v1h-1zM436 297h1v1h-1zM437 296h1v1h-1zM438 297h1v1h-1zM439 298h1v1h-1zM438 300h1v1h-1zM439 299h1v1h-1zM444 299h1v1h-1zM442 297h1v1h-1zM434 301h1v1h-1zM433 303h1v1h-1zM439 305h1v1h-1zM438 306h1v1h-1zM439 307h1v1h-1zM441 308h1v1h-1zM440 304h1v1h-1zM434 306h1v1h-1zM432 310h1v1h-1zM433 309h1v1h-1zM412 306h1v1h-1zM411 307h1v1h-1zM410 308h1v1h-1zM416 308h1v1h-1zM413 311h1v1h-1zM412 311h1v1h-1zM417 314h1v1h-1zM422 315h1v1h-1zM438 314h1v1h-1zM442 315h1v1h-1zM426 296h1v1h-1zM447 296h1v1h-1zM449 296h1v1h-1zM457 296h1v1h-1zM454 305h1v1h-1zM455 305h1v1h-1zM451 307h1v1h-1zM453 308h1v1h-1zM453 309h1v1h-1zM452 308h1v1h-1zM479 307h1v1h-1zM478 309h1v1h-1zM480 310h1v1h-1zM477 310h1v1h-1zM479 309h1v1h-1zM461 311h1v1h-1zM468 310h1v1h-1zM446 307h1v1h-1zM447 315h1v1h-1zM449 315h1v1h-1z"/>
<rect x="370" y="31" width="1" height="319" fill="#6b7326"/>
<rect x="50" y="30" width="1" height="321" fill="#d9d9de"/>
<rect x="690" y="30" width="1" height="321" fill="#d9d9de"/>
<rect x="50" y="30" width="641" height="1" fill="#d9d9de"/>
<rect x="50" y="350" width="641" height="1" fill="#d9d9de"/>
</g>
<text x="360" y="14" font-size="12.7" text-anchor="middle">VITESSE vs PENTE</text>
<text x="49.5" y="368" font-size="11" text-anchor="middle">-40</text>
<text x="89.5" y="368" font-size="11" text-anchor="middle">-35</text>
<text x="129.5" y="368" font-size="11" text-anchor="middle">-30</text>
<text x="169.5" y="368" font-size="11" text-anchor="middle">-25</text>
<text x="209.5" y="368" font-size="11" text-anchor="middle">-20</text>
<text x="249.5" y="368" font-size="11" text-anchor="middle">-15</text>
<text x="289.5" y="368" font-size="11" text-anchor="middle">-10</text>
<text x="329.5" y="368" font-size="11" text-anchor="middle">-5</text>
<text x="369.5" y="368" font-size="11" text-anchor="middle">0</text>
<text x="409.5" y="368" font-size="11" text-anchor="middle">5</text>
<text x="449.5" y="368" font-size="11" text-anchor="middle">10</text>
<text x="489.5" y="368" font-size="11" text-anchor="middle">15</text>
<text x="529.5" y="368" font-size="11" text-anchor="middle">20</text>
<text x="569.5" y="368" font-size="11" text-anchor="middle">25</text>
<text x="609.5" y="368" font-size="11" text-anchor="middle">30</text>
<text x="649.5" y="368" font-size="11" text-anchor="middle">35</text>
<text x="689.5" y="368" font-size="11" text-anchor="middle">40</text>
<text x="690" y="384" font-size="11" text-anchor="end">Pente [%]</text>
<text x="362" y="34.0" font-size="11" text-anchor="end">53</text>
<text x="362" y="63.1" font-size="11" text-anchor="end">48</text>
<text x="362" y="92.2" font-size="11" text-anchor="end">43</text>
<text x="362" y="121.3" font-size="11" text-anchor="end">38</text>
<text x="362" y="150.4" font-size="11" text-anchor="end">33</text>
<text x="362" y="179.5" font-size="11" text-anchor="end">28</text>
<text x="362" y="208.5" font-size="11" text-anchor="end">23</text>
<text x="362" y="237.6" font-size="11" text-anchor="end">18</text>
<text x="362" y="266.7" font-size="11" text-anchor="end">13</text>
<text x="362" y="295.8" font-size="11" text-anchor="end">8</text>
<text x="362" y="324.9" font-size="11" text-anchor="end">3</text>
<text x="362" y="354.0" font-size="11" text-anchor="end">3</text>
<text transform="translate(342.5 189.5) rotate(-90)" font-size="11.5" text-anchor="middle">Vitesse [km/h]</text>
</svg>
</body></html>
